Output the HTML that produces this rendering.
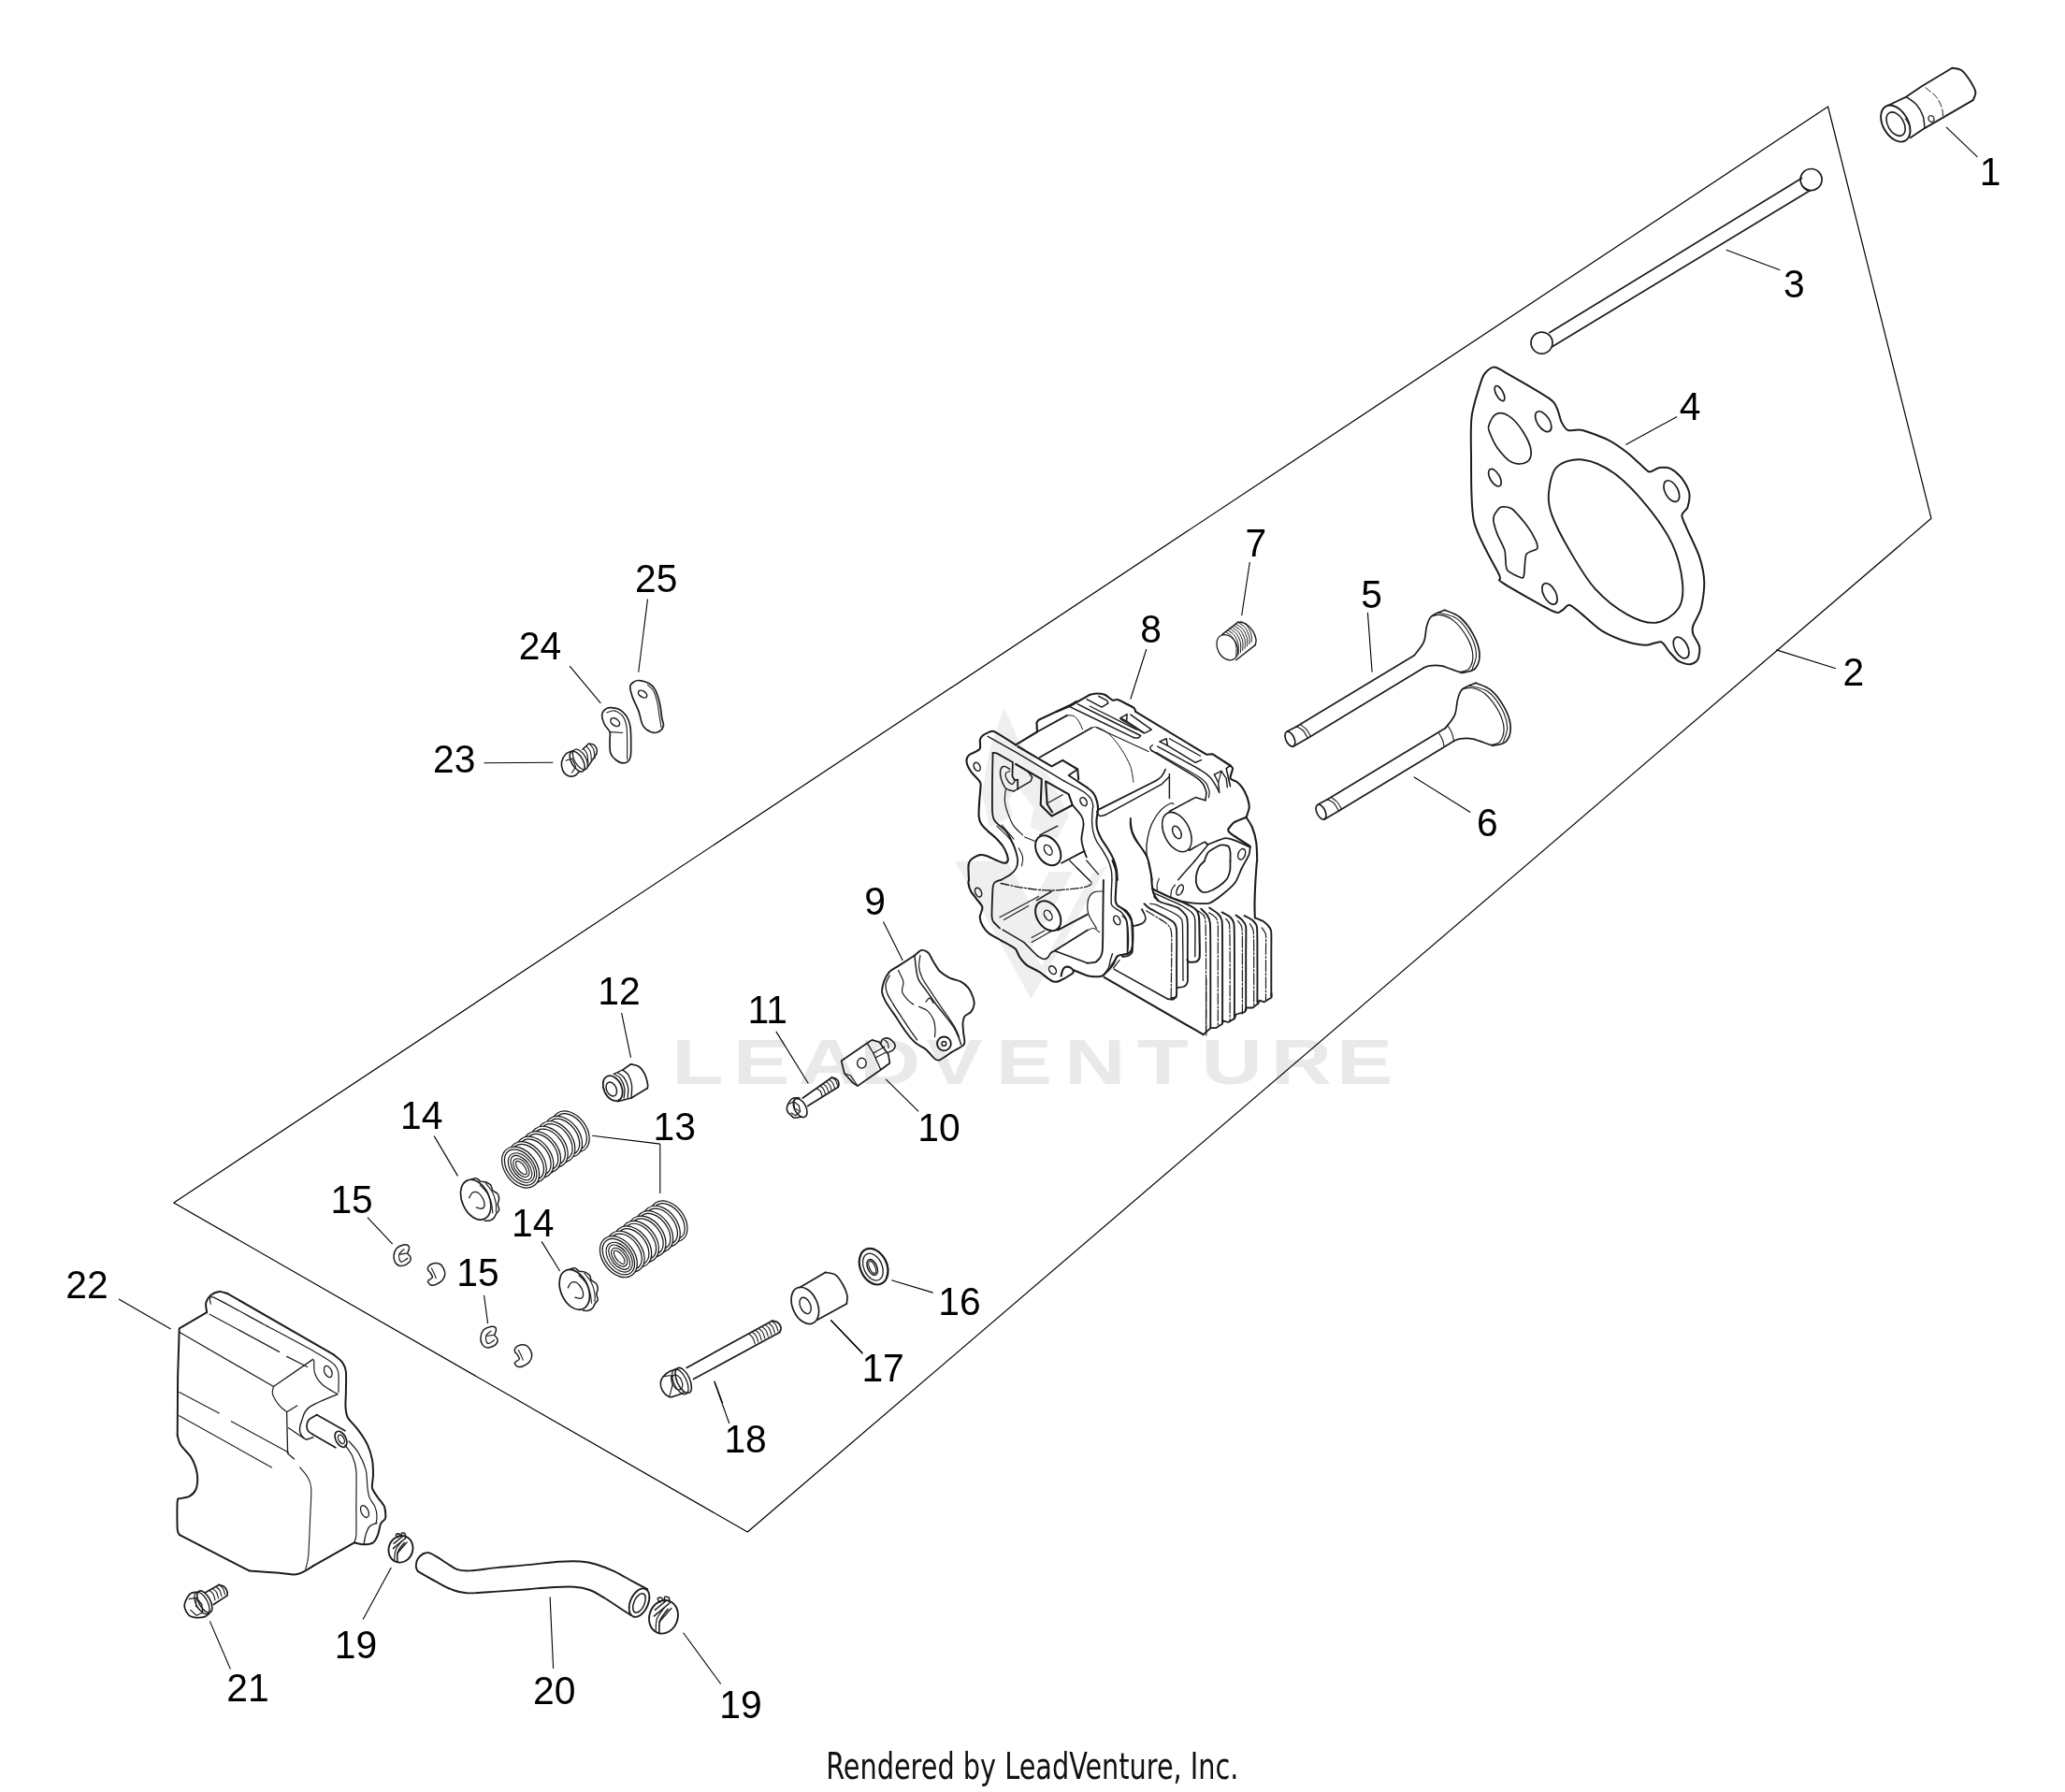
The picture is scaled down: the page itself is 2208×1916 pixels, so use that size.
<!DOCTYPE html>
<html><head><meta charset="utf-8"><title>Parts diagram</title>
<style>html,body{margin:0;padding:0;background:#fff}svg{display:block;will-change:transform;transform:translateZ(0)}</style></head>
<body>
<svg width="2208" height="1916" viewBox="0 0 2208 1916">
<rect width="2208" height="1916" fill="#fff"/>
<g fill="#efefef" stroke="none"><text transform="scale(1.327,1)" x="541.3 590.7 643.2 692.6 746.4 802.4 857.7 916.1 967.9 1023.9 1076.8" y="1158.6" font-family="'Liberation Sans', Arial, sans-serif" font-weight="bold" font-size="68" fill="#e9e9e9">LEADVENTURE</text><polygon points="1021,920.7 1076.7,920.7 1102.5,967.1 1122.1,932 1146.9,932 1102.5,1014.6 1113.9,1033.2 1167.6,934.1 1184.1,925.8 1102.5,1068.3"/><polygon points="1073.6,756.5 1058.1,801.9 1049.9,847.4 1058.1,884.5 1082.9,872.1 1078.8,855.6 1087,839.1 1105.6,863.9 1101.5,884.5 1130.4,896.9 1142.8,872.1 1122.1,830.8 1089.1,791.6"/></g>
<g fill="none" stroke="#1c1c1c" stroke-width="1.7" stroke-linejoin="round" stroke-linecap="round">
<path d="M1954.6 114 L2065 554.3 L799.3 1638 L185.8 1286 Z" stroke-width="1.2" stroke="#000"/>
<ellipse cx="2026.8" cy="132.1" rx="13.4" ry="21.1" transform="rotate(-30 2026.8 132.1)" stroke-width="1.9"/>
<ellipse cx="2027.1" cy="132.6" rx="8.5" ry="13.8" transform="rotate(-30 2027.1 132.6)" stroke-width="1.6"/>
<path d="M2019.5 112.5 L2038.2 103.6 L2055.2 92 L2087.3 72.8" stroke-width="1.8"/>
<path d="M2042.7 147.3 L2057.9 137.1 L2109.6 107.1" stroke-width="1.8"/>
<path d="M2087.3 72.8 C2089 73.1 2094 72.8 2097.1 75 C2100.3 77.2 2103.5 81.8 2106.1 85.7 C2108.6 89.6 2111.7 94.6 2112.3 98.2 C2112.9 101.8 2110.1 105.7 2109.6 107.1" stroke-width="1.9"/>
<path d="M2038.2 103.6 C2040 104.9 2046 108.2 2048.9 111.6 C2051.9 115 2054.6 119.9 2056.1 124.1 C2057.6 128.3 2057.6 134.9 2057.9 137.1" stroke-width="1.5"/>
<path d="M2058.8 93.8 C2060.7 95.4 2067.4 99.9 2070.4 103.6 C2073.3 107.3 2075.4 112.2 2076.6 116.1 C2077.8 119.9 2077.4 125 2077.5 126.8" stroke-width="1" stroke-dasharray="7 3"/>
<path d="M2037.3 126.8 C2038.1 128.1 2040.9 132.1 2041.8 134.8 C2042.7 137.5 2042.5 141.5 2042.7 142.9" stroke-width="1.1"/>
<ellipse cx="2065" cy="127" rx="2.9" ry="3.4" transform="rotate(-20 2065 127)" stroke-width="1.2"/>
<ellipse cx="1936.6" cy="192" rx="11.5" ry="11.5" transform="rotate(0 1936.6 192)"/>
<ellipse cx="1648.5" cy="366.6" rx="11.5" ry="11.5" transform="rotate(0 1648.5 366.6)"/>
<path d="M1926.5 190.5 L1657 355.5"/>
<path d="M1934 204.5 L1660 370.5"/>
<path d="M1927 199 C1927.7 199.7 1929.5 202.1 1931 203 C1932.5 203.9 1935.2 204.2 1936 204.5" stroke-width="1.2"/>
<path d="M1588.5 398.3 C1590.3 396.4 1594.9 392.5 1597.7 392.5 C1600.5 392.5 1601.9 393.9 1609.7 398.3 C1617.5 402.7 1648.7 420.7 1656 425.7 C1663.3 430.7 1662.7 432.6 1664.6 436 C1666.4 439.4 1668.1 448.2 1669.7 451.4 C1671.3 454.6 1673.6 458.9 1676.6 460 C1679.5 461.1 1686.3 458.6 1692 460 C1697.7 461.4 1713 467.1 1719.4 470.3 C1725.8 473.5 1735 480.1 1740 484 C1745 487.9 1753.9 496.7 1757.1 499.4 C1760.3 502.2 1761.7 504.5 1764 504.6 C1766.3 504.7 1771.3 500.6 1774.3 500.1 C1777.3 499.7 1783.1 499.6 1786.3 501.1 C1789.5 502.7 1795.6 508 1798.3 511.4 C1800.9 514.9 1805.3 522.7 1806.2 526.9 C1807 531 1805.5 539.1 1804.5 542.3 C1803.4 545.5 1798.4 547.9 1798.3 550.9 C1798.1 553.8 1800.9 558.6 1803.4 564.6 C1805.9 570.5 1814.6 587.7 1817.1 595.4 C1819.7 603.2 1822.1 615.5 1822.3 622.9 C1822.5 630.2 1820.5 644.1 1818.9 650.3 C1817.3 656.5 1811.4 665.5 1810.3 669.1 C1809.1 672.8 1809.4 674.7 1810.3 677.7 C1811.2 680.7 1816.5 687.8 1817.1 691.4 C1817.8 695.1 1816.8 702.6 1815.4 705.1 C1814.1 707.7 1809.6 710.1 1806.9 710.3 C1804.1 710.5 1797.8 708.7 1794.9 706.9 C1791.9 705 1787.1 699.3 1784.6 696.6 C1782.1 693.8 1779.2 687.2 1776 686.3 C1772.8 685.4 1765.4 689.7 1760.6 689.7 C1755.8 689.7 1746.4 688.3 1740 686.3 C1733.6 684.2 1719 678.2 1712.6 674.3 C1706.2 670.4 1696.6 660.8 1692 657.1 C1687.4 653.5 1681.3 647.4 1678.3 646.9 C1675.3 646.3 1672.2 652.2 1669.7 653 C1667.2 653.9 1667.9 657.1 1659.4 653 C1651 649 1613.8 628 1606.3 622.9 C1598.7 617.7 1606.9 623 1602.9 614.3 C1598.8 605.6 1580.1 574.9 1576.1 557.7 C1572.1 540.6 1573.3 500.8 1573 485.7 C1572.7 470.6 1572.3 455.1 1573.7 444.6 C1575.2 434.1 1582 413 1584 406.9 C1586 400.7 1586.6 400.2 1588.5 398.3 Z" stroke-width="2"/>
<path d="M1656 526.9 C1656.9 518.3 1658.6 505.3 1664.6 499.4 C1670.6 493.5 1681.7 490.4 1692 491.5 C1702.3 492.7 1714.9 498.1 1726.3 506.3 C1737.7 514.5 1750.3 528 1760.6 540.6 C1770.9 553.1 1781.6 568 1788 581.7 C1794.4 595.4 1797.8 611.4 1799 622.9 C1800.1 634.3 1799.5 643.1 1794.9 650.3 C1790.2 657.4 1780 664.6 1770.9 665.7 C1761.7 666.9 1750.9 663.1 1740 657.1 C1729.1 651.1 1716 641.1 1705.7 629.7 C1695.4 618.3 1686 601.7 1678.3 588.6 C1670.6 575.4 1663.1 561.1 1659.4 550.9 C1655.7 540.6 1655.1 535.4 1656 526.9 Z" stroke-width="1.9"/>
<ellipse cx="1603.5" cy="420.6" rx="3.8" ry="8.9" transform="rotate(-28 1603.5 420.6)"/>
<path d="M1591.9 454.9 C1593 451.7 1595.9 444.6 1599.4 442.9 C1603 441.1 1608.3 441.4 1613.1 444.6 C1618 447.7 1624.6 455.4 1628.6 461.7 C1632.6 468 1636.6 476.9 1637.1 482.3 C1637.7 487.7 1635.4 492.3 1632 494.3 C1628.6 496.3 1621.7 496.9 1616.6 494.3 C1611.4 491.7 1605.1 484.3 1601.1 478.9 C1597.1 473.4 1594.1 465.7 1592.6 461.7 C1591 457.7 1590.7 458 1591.9 454.9 Z"/>
<ellipse cx="1650.2" cy="450.7" rx="6.5" ry="12.3" transform="rotate(-33 1650.2 450.7)"/>
<ellipse cx="1598.4" cy="510.7" rx="5.1" ry="10.3" transform="rotate(-30 1598.4 510.7)"/>
<ellipse cx="1787.3" cy="525.1" rx="6.9" ry="12.3" transform="rotate(-28 1787.3 525.1)"/>
<ellipse cx="1797.6" cy="692.5" rx="6.9" ry="12.3" transform="rotate(-28 1797.6 692.5)"/>
<ellipse cx="1657" cy="634.9" rx="6.5" ry="12.3" transform="rotate(-28 1657 634.9)"/>
<path d="M1597.7 550.9 C1598.6 549.1 1602.4 543.1 1604.6 542.3 C1606.8 541.5 1613.4 541.8 1616.6 544 C1619.8 546.2 1629 557.1 1632 561.1 C1635 565.1 1641 575.3 1642.3 578.3 C1643.6 581.3 1644.5 585.2 1643.3 586.9 C1642.1 588.5 1633.6 589.5 1632 592.7 C1630.4 595.9 1630.2 611.4 1629.6 614.3 C1629 617.2 1629 618.3 1626.9 617.7 C1624.7 617.1 1613.5 612.5 1611.4 609.1 C1609.3 605.7 1610.2 593 1609 588.6 C1607.8 584.2 1602.5 575 1601.1 571.4 C1599.7 567.8 1597.4 560.1 1597 557.7 C1596.6 555.3 1596.8 552.7 1597.7 550.9 Z"/>
<path d="M1386.1 776.9 L1512.2 700.7"/>
<path d="M1398.3 789.2 L1522.4 713.9"/>
<path d="M1376.3 782 L1386.1 776.9"/>
<path d="M1382.6 798.3 L1398.3 789.2"/>
<ellipse cx="1379.4" cy="790.2" rx="4.5" ry="8.5" transform="rotate(-25 1379.4 790.2)"/>
<path d="M1386.1 776.9 C1387.3 777.6 1391.2 779 1393.2 781 C1395.3 783.1 1397.5 787.8 1398.3 789.2" stroke-width="1.1"/>
<path d="M1390.2 774.5 C1391.3 775.4 1394.8 777.5 1396.7 779.6 C1398.5 781.7 1400.6 785.9 1401.4 787.1" stroke-width="1.1"/>
<path d="M1512.2 700.7 C1513.9 698.3 1520.2 691.5 1522.4 686.4 C1524.6 681.4 1524.1 674.7 1525.4 670.2 C1526.8 665.6 1527.3 662 1530.5 659 C1533.7 656 1542.4 653.4 1544.7 652.3"/>
<path d="M1544.7 652.3 C1547.5 653.6 1555.9 655.7 1561 660 C1566.1 664.3 1571.8 671.9 1575.3 678.3 C1578.7 684.7 1581.6 692.5 1582 698.6 C1582.3 704.7 1580.4 711.5 1577.3 714.9 C1574.1 718.4 1565.4 718.6 1563.1 719.4"/>
<path d="M1563.1 719.4 C1561.4 718.8 1556.6 717.2 1552.9 715.9 C1549.2 714.7 1544.7 712.5 1540.7 711.9 C1536.6 711.2 1531.5 711.5 1528.5 711.9 C1525.4 712.2 1523.4 713.6 1522.4 713.9"/>
<path d="M1530.5 659 C1532.2 658.7 1536.6 656.7 1540.7 657.6 C1544.7 658.4 1550.2 659.9 1554.9 664.1 C1559.7 668.2 1565.8 676.3 1569.2 682.4 C1572.5 688.5 1574.6 695.3 1574.8 700.7 C1575.1 706.1 1573.1 711.9 1570.8 714.9 C1568.5 717.9 1562.6 718 1561 718.6" stroke-width="1.2"/>
<path d="M1537.6 655.1 C1541 656.2 1552.1 657.4 1558 661.6 C1563.8 665.8 1569.4 674 1572.8 680.3 C1576.2 686.7 1578.3 693.8 1578.5 699.7 C1578.7 705.5 1574.9 712.7 1574.2 715.3" stroke-width="1.1"/>
<path d="M1419.3 854.8 L1545.4 778.6"/>
<path d="M1431.5 867.1 L1555.5 791.8"/>
<path d="M1409.5 859.9 L1419.3 854.8"/>
<path d="M1415.8 876.2 L1431.5 867.1"/>
<ellipse cx="1412.5" cy="868.1" rx="4.5" ry="8.5" transform="rotate(-25 1412.5 868.1)"/>
<path d="M1419.3 854.8 C1420.4 855.5 1424.3 856.9 1426.4 858.9 C1428.4 860.9 1430.6 865.7 1431.5 867.1" stroke-width="1.1"/>
<path d="M1423.3 852.4 C1424.4 853.3 1428 855.4 1429.8 857.5 C1431.7 859.6 1433.7 863.8 1434.5 865" stroke-width="1.1"/>
<path d="M1545.4 778.6 C1547.1 776.2 1553.3 769.4 1555.5 764.3 C1557.7 759.3 1557.2 752.6 1558.6 748.1 C1559.9 743.5 1560.4 739.9 1563.7 736.9 C1566.9 733.9 1575.5 731.3 1577.9 730.2"/>
<path d="M1577.9 730.2 C1580.6 731.5 1589.1 733.6 1594.2 737.9 C1599.3 742.2 1604.9 749.8 1608.4 756.2 C1611.9 762.6 1614.8 770.4 1615.1 776.5 C1615.5 782.6 1613.6 789.4 1610.4 792.8 C1607.3 796.3 1598.6 796.5 1596.2 797.3"/>
<path d="M1596.2 797.3 C1594.5 796.7 1589.8 795.1 1586 793.8 C1582.3 792.6 1577.9 790.4 1573.8 789.8 C1569.8 789.1 1564.7 789.4 1561.6 789.8 C1558.6 790.1 1556.5 791.5 1555.5 791.8"/>
<path d="M1563.7 736.9 C1565.4 736.6 1569.8 734.6 1573.8 735.5 C1577.9 736.3 1583.3 737.8 1588.1 742 C1592.8 746.1 1599 754.2 1602.3 760.3 C1605.6 766.4 1607.7 773.2 1608 778.6 C1608.3 784 1606.2 789.8 1603.9 792.8 C1601.6 795.8 1595.8 795.9 1594.2 796.5" stroke-width="1.2"/>
<path d="M1570.8 733 C1574.2 734.1 1585.3 735.3 1591.1 739.5 C1597 743.7 1602.5 751.9 1606 758.2 C1609.4 764.6 1611.4 771.7 1611.7 777.6 C1611.9 783.4 1608.1 790.6 1607.4 793.2" stroke-width="1.1"/>
<path d="M1538.2 783.1 C1538.9 784.3 1541.3 788.2 1542.3 790.8 C1543.3 793.4 1544 797.2 1544.3 798.5" stroke-width="1.1"/>
<path d="M1548.4 776.5 C1549.1 777.7 1551.5 781 1552.5 783.7 C1553.5 786.3 1554.2 790.9 1554.5 792.4" stroke-width="1.1"/>
<path d="M221.2 1403.2 C221.1 1401.5 219.6 1396.2 220.2 1393.1 C220.9 1390.1 222.9 1387.1 225.2 1385.1 C227.6 1383.1 231.3 1381.4 234.3 1381.1 C237.3 1380.8 241.8 1382.8 243.3 1383.1" stroke-width="2"/>
<path d="M243.3 1383.1 L356.8 1448.4" stroke-width="2"/>
<path d="M356.8 1448.4 C358 1449.5 364.1 1454 365.9 1456.4 C367.6 1458.8 369.4 1462.2 369.9 1466.5 C370.4 1470.8 369.9 1483.5 369.9 1488.6 C369.8 1493.7 369.2 1501 369.5 1504.6 C369.8 1508.3 370.1 1512.5 371.9 1515.7 C373.7 1518.9 380.1 1524.9 382.9 1528.8 C385.8 1532.6 391 1540.5 393 1544.8 C395 1549.1 397.2 1556.6 398 1560.9 C398.8 1565.2 399 1572.9 399 1577 C399 1581 397.3 1587.8 398 1591 C398.7 1594.2 402.3 1598.4 404 1601.1 C405.8 1603.7 410 1608.2 411.1 1611.1 C412.1 1614.1 412.6 1620.8 412.1 1623.2 C411.5 1625.6 408.1 1626.8 407.1 1629.2 C406 1631.6 405.1 1638.6 404 1641.2 C403 1643.9 401 1647.9 399 1649.3 C397 1650.6 391.7 1651.3 389 1651.3 C386.3 1651.3 380.3 1649.6 378.9 1649.3" stroke-width="2"/>
<path d="M378.9 1649.3 L334.7 1674.4" stroke-width="2"/>
<path d="M334.7 1674.4 C332.7 1675.6 326 1679.9 322.7 1681.4 C319.3 1682.9 318.7 1683.4 314.6 1683.4 C310.6 1683.5 306.6 1682.5 298.6 1681.8 C290.5 1681.2 271.8 1679.8 266.4 1679.4" stroke-width="2"/>
<path d="M266.4 1679.4 L192.1 1641.2" stroke-width="2"/>
<path d="M192.1 1641.2 C191.8 1640.4 190 1640 189.7 1635.2 C189.4 1630.4 189.2 1609.5 189.7 1605.1 C190.1 1600.7 191.4 1602.7 193.1 1602.1 C194.8 1601.4 200 1601.3 202.1 1600.1 C204.3 1598.9 208 1595.6 209.2 1593 C210.4 1590.5 211.2 1584.2 211.2 1581 C211.2 1577.8 210.1 1572 209.2 1568.9 C208.2 1565.8 206.3 1561.1 204.2 1557.9 C202 1554.7 195 1547.9 193.1 1544.8 C191.2 1541.7 190.1 1536.1 189.7 1534.8" stroke-width="2"/>
<path d="M189.7 1534.8 L190.1 1472.5 L191.7 1420.3 L221.2 1403.2" stroke-width="2"/>
<path d="M225.2 1394.2 C225.6 1393.3 221.6 1384.5 228.3 1387.1 C234.9 1389.7 269.8 1409.5 282.5 1416.2 C295.2 1423 328.1 1440.5 336.7 1445.4 C345.4 1450.3 353.9 1455.7 356.8 1458.4 C359.8 1461.1 361.3 1465 361.9 1468.5 C362.4 1472 361.9 1486.2 361.9 1488.6" stroke-width="1.2"/>
<path d="M372.9 1540.8 C374.6 1542.8 379.9 1547.8 382.9 1552.9 C386 1557.9 389.3 1564.6 391 1570.9 C392.7 1577.3 392.3 1586 393 1591 C393.7 1596 393.7 1597.7 395 1601.1 C396.3 1604.4 399.7 1607.8 401 1611.1 C402.4 1614.5 402.9 1618.1 403 1621.2 C403.2 1624.2 402.2 1627.9 402 1629.2" stroke-width="1.2"/>
<path d="M368.9 1544.8 C369.7 1546 375.7 1554.1 376.9 1556.9 C378.1 1559.7 380.5 1567.5 380.9 1572.9 C381.3 1578.4 380.9 1604.3 380.9 1611.1 C380.9 1617.9 381.1 1637.4 380.9 1641.2 C380.7 1645.1 379.1 1648.5 378.9 1649.3" stroke-width="1.2"/>
<path d="M224.2 1405.2 L298.6 1445.4" stroke-width="1.2"/>
<path d="M306.6 1450.4 L328.7 1461.5" stroke-width="1.2"/>
<path d="M191.7 1424.3 L292.5 1482.5 L334.7 1453.4" stroke-width="1.3"/>
<path d="M292.5 1482.5 C292.4 1483.9 290.5 1487.2 291.5 1490.6 C292.5 1493.9 296.1 1499.5 298.6 1502.6 C301.1 1505.8 305.3 1508.5 306.6 1509.7" stroke-width="1.2"/>
<path d="M317.7 1503 L306.6 1509.7 L307.6 1553.9 L314.6 1559.9" stroke-width="1.3"/>
<path d="M191.7 1488.6 L234.3 1511.1" stroke-width="1.1"/>
<path d="M247.3 1519.7 L308.6 1552.9" stroke-width="1.1"/>
<path d="M191.7 1513.7 L290.5 1568.9" stroke-width="1.1"/>
<path d="M320.7 1568.9 C322 1570.6 326.7 1575.3 328.7 1579 C330.7 1582.7 332.2 1584 332.7 1591 C333.2 1598.1 332.2 1609.1 331.7 1621.2 C331.2 1633.2 330.5 1654 329.7 1663.3 C328.9 1672.7 327.2 1675.1 326.7 1677.4" stroke-width="1.1"/>
<path d="M335.7 1454.4 C335.9 1456.8 335.2 1464.1 336.7 1468.5 C338.2 1472.8 340.8 1476.9 344.8 1480.5 C348.8 1484.2 358.2 1488.9 360.8 1490.6" stroke-width="1.2"/>
<path d="M360.8 1490.6 C355.8 1492.9 337.1 1500 330.7 1504.6 C324.4 1509.3 324.4 1514.4 322.7 1518.7 C321 1523.1 320 1527.4 320.7 1530.8 C321.3 1534.1 324.4 1537.8 326.7 1538.8 C329 1539.8 333.4 1537.1 334.7 1536.8" stroke-width="1.4"/>
<path d="M308.6 1526.7 L324.7 1537.8" stroke-width="1.2"/>
<ellipse cx="350.8" cy="1466.5" rx="3.8" ry="6.4" transform="rotate(-25 350.8 1466.5)" stroke-width="1.3"/>
<path d="M338.8 1512.7 L368.9 1529.8"/>
<path d="M333.7 1533.2 L358.8 1547.8"/>
<path d="M333.7 1533.2 C332.9 1532.4 329.4 1531.2 328.7 1528.8 C328 1526.3 328 1521.4 329.7 1518.7 C331.4 1516 337.2 1513.7 338.8 1512.7"/>
<ellipse cx="364.5" cy="1538.8" rx="5.4" ry="9.2" transform="rotate(-28 364.5 1538.8)"/>
<ellipse cx="364.9" cy="1538.8" rx="2.8" ry="5" transform="rotate(-28 364.9 1538.8)" stroke-width="1.2"/>
<ellipse cx="390" cy="1616.1" rx="3.8" ry="6.8" transform="rotate(-25 390 1616.1)" stroke-width="1.3"/>
<path d="M389 1651.3 C389.3 1649.6 390 1644.4 391 1641.2 C392 1638.1 393 1634.4 395 1632.2 C397 1630 401.7 1628.9 403 1628.2" stroke-width="1.3"/>
<ellipse cx="610.2" cy="1209.9" rx="15.5" ry="23" transform="rotate(-37 610.2 1209.9)" fill="#fff" stroke="#111" stroke-width="4.0"/>
<ellipse cx="610.2" cy="1209.9" rx="15.5" ry="23" transform="rotate(-37 610.2 1209.9)" stroke="#fff" stroke-width="1.6"/>
<ellipse cx="602.5" cy="1215.4" rx="15.5" ry="23" transform="rotate(-37 602.5 1215.4)" fill="#fff" stroke="#111" stroke-width="4.0"/>
<ellipse cx="602.5" cy="1215.4" rx="15.5" ry="23" transform="rotate(-37 602.5 1215.4)" stroke="#fff" stroke-width="1.6"/>
<ellipse cx="594.9" cy="1220.8" rx="15.5" ry="23" transform="rotate(-37 594.9 1220.8)" fill="#fff" stroke="#111" stroke-width="4.0"/>
<ellipse cx="594.9" cy="1220.8" rx="15.5" ry="23" transform="rotate(-37 594.9 1220.8)" stroke="#fff" stroke-width="1.6"/>
<ellipse cx="587.2" cy="1226.3" rx="15.5" ry="23" transform="rotate(-37 587.2 1226.3)" fill="#fff" stroke="#111" stroke-width="4.0"/>
<ellipse cx="587.2" cy="1226.3" rx="15.5" ry="23" transform="rotate(-37 587.2 1226.3)" stroke="#fff" stroke-width="1.6"/>
<ellipse cx="579.6" cy="1231.7" rx="15.5" ry="23" transform="rotate(-37 579.6 1231.7)" fill="#fff" stroke="#111" stroke-width="4.0"/>
<ellipse cx="579.6" cy="1231.7" rx="15.5" ry="23" transform="rotate(-37 579.6 1231.7)" stroke="#fff" stroke-width="1.6"/>
<ellipse cx="571.9" cy="1237.2" rx="15.5" ry="23" transform="rotate(-37 571.9 1237.2)" fill="#fff" stroke="#111" stroke-width="4.0"/>
<ellipse cx="571.9" cy="1237.2" rx="15.5" ry="23" transform="rotate(-37 571.9 1237.2)" stroke="#fff" stroke-width="1.6"/>
<ellipse cx="564.3" cy="1242.6" rx="15.5" ry="23" transform="rotate(-37 564.3 1242.6)" fill="#fff" stroke="#111" stroke-width="4.0"/>
<ellipse cx="564.3" cy="1242.6" rx="15.5" ry="23" transform="rotate(-37 564.3 1242.6)" stroke="#fff" stroke-width="1.6"/>
<ellipse cx="556.6" cy="1248.1" rx="15.5" ry="23" transform="rotate(-37 556.6 1248.1)" fill="#fff" stroke="#111" stroke-width="4.0"/>
<ellipse cx="556.6" cy="1248.1" rx="15.5" ry="23" transform="rotate(-37 556.6 1248.1)" stroke="#fff" stroke-width="1.6"/>
<ellipse cx="557.4" cy="1248.6" rx="10" ry="16.5" transform="rotate(-37 557.4 1248.6)" fill="#fff" stroke="#111" stroke-width="3.8"/>
<ellipse cx="557.4" cy="1248.6" rx="10" ry="16.5" transform="rotate(-37 557.4 1248.6)" stroke="#fff" stroke-width="1.6"/>
<ellipse cx="557.4" cy="1248.6" rx="5" ry="10" transform="rotate(-37 557.4 1248.6)" fill="#fff" stroke="#111" stroke-width="3.8"/>
<ellipse cx="557.4" cy="1248.6" rx="5" ry="10" transform="rotate(-37 557.4 1248.6)" stroke="#fff" stroke-width="1.6"/>
<ellipse cx="715" cy="1305.9" rx="15.5" ry="23" transform="rotate(-37 715 1305.9)" fill="#fff" stroke="#111" stroke-width="4.0"/>
<ellipse cx="715" cy="1305.9" rx="15.5" ry="23" transform="rotate(-37 715 1305.9)" stroke="#fff" stroke-width="1.6"/>
<ellipse cx="707.3" cy="1311.3" rx="15.5" ry="23" transform="rotate(-37 707.3 1311.3)" fill="#fff" stroke="#111" stroke-width="4.0"/>
<ellipse cx="707.3" cy="1311.3" rx="15.5" ry="23" transform="rotate(-37 707.3 1311.3)" stroke="#fff" stroke-width="1.6"/>
<ellipse cx="699.7" cy="1316.7" rx="15.5" ry="23" transform="rotate(-37 699.7 1316.7)" fill="#fff" stroke="#111" stroke-width="4.0"/>
<ellipse cx="699.7" cy="1316.7" rx="15.5" ry="23" transform="rotate(-37 699.7 1316.7)" stroke="#fff" stroke-width="1.6"/>
<ellipse cx="692" cy="1322.1" rx="15.5" ry="23" transform="rotate(-37 692 1322.1)" fill="#fff" stroke="#111" stroke-width="4.0"/>
<ellipse cx="692" cy="1322.1" rx="15.5" ry="23" transform="rotate(-37 692 1322.1)" stroke="#fff" stroke-width="1.6"/>
<ellipse cx="684.4" cy="1327.5" rx="15.5" ry="23" transform="rotate(-37 684.4 1327.5)" fill="#fff" stroke="#111" stroke-width="4.0"/>
<ellipse cx="684.4" cy="1327.5" rx="15.5" ry="23" transform="rotate(-37 684.4 1327.5)" stroke="#fff" stroke-width="1.6"/>
<ellipse cx="676.7" cy="1332.9" rx="15.5" ry="23" transform="rotate(-37 676.7 1332.9)" fill="#fff" stroke="#111" stroke-width="4.0"/>
<ellipse cx="676.7" cy="1332.9" rx="15.5" ry="23" transform="rotate(-37 676.7 1332.9)" stroke="#fff" stroke-width="1.6"/>
<ellipse cx="669.1" cy="1338.3" rx="15.5" ry="23" transform="rotate(-37 669.1 1338.3)" fill="#fff" stroke="#111" stroke-width="4.0"/>
<ellipse cx="669.1" cy="1338.3" rx="15.5" ry="23" transform="rotate(-37 669.1 1338.3)" stroke="#fff" stroke-width="1.6"/>
<ellipse cx="661.4" cy="1343.7" rx="15.5" ry="23" transform="rotate(-37 661.4 1343.7)" fill="#fff" stroke="#111" stroke-width="4.0"/>
<ellipse cx="661.4" cy="1343.7" rx="15.5" ry="23" transform="rotate(-37 661.4 1343.7)" stroke="#fff" stroke-width="1.6"/>
<ellipse cx="662.2" cy="1344.2" rx="10" ry="16.5" transform="rotate(-37 662.2 1344.2)" fill="#fff" stroke="#111" stroke-width="3.8"/>
<ellipse cx="662.2" cy="1344.2" rx="10" ry="16.5" transform="rotate(-37 662.2 1344.2)" stroke="#fff" stroke-width="1.6"/>
<ellipse cx="662.2" cy="1344.2" rx="5" ry="10" transform="rotate(-37 662.2 1344.2)" fill="#fff" stroke="#111" stroke-width="3.8"/>
<ellipse cx="662.2" cy="1344.2" rx="5" ry="10" transform="rotate(-37 662.2 1344.2)" stroke="#fff" stroke-width="1.6"/>
<path d="M503.7 1261 C504.6 1260.8 507.5 1259.3 509.2 1259.7 C510.8 1260 512.2 1262.4 513.9 1263.1 C515.6 1263.7 517.5 1263.1 519.3 1263.7 C521.1 1264.4 523.5 1265.7 524.7 1267.1 C526 1268.6 525.5 1271 526.8 1272.6 C528 1274.1 531.1 1275 532.2 1276.6 C533.3 1278.2 533.6 1280.2 533.6 1282 C533.6 1283.9 532.2 1285.5 532.2 1287.5 C532.2 1289.4 533.9 1291.8 533.6 1293.6 C533.2 1295.4 531.1 1296.8 530.2 1298.3 C529.3 1299.8 529.3 1301.3 528.1 1302.4 C527 1303.5 525.1 1304.6 523.4 1305.1 C521.7 1305.5 518.9 1305.1 518 1305.1" stroke-width="1.5"/>
<ellipse cx="508.7" cy="1282.7" rx="14.6" ry="22.5" transform="rotate(-24 508.7 1282.7)" fill="#fff"/>
<path d="M501.7 1280.7 C502.3 1279.8 503.5 1276.2 505.1 1275.3 C506.7 1274.4 509.3 1274.1 511.2 1275.3 C513.1 1276.4 515.5 1279.8 516.6 1282 C517.7 1284.3 518.2 1287.1 518 1288.8 C517.7 1290.5 516.7 1291.9 515.3 1292.2 C513.8 1292.6 510.2 1291.1 509.2 1290.9" stroke-width="1.3"/>
<path d="M513.2 1267.1 C514.5 1268.5 518.6 1272.1 520.7 1275.3 C522.7 1278.4 524.4 1282.5 525.4 1286.1 C526.4 1289.7 526.6 1295.2 526.8 1297" stroke-width="1.1"/>
<path d="M519.3 1265.1 C520.6 1266.8 525 1271.8 526.8 1275.3 C528.6 1278.8 529.6 1282.7 530.2 1286.1 C530.8 1289.5 530.4 1294 530.4 1295.6" stroke-width="1.1"/>
<path d="M609.3 1357.2 C610.2 1357 613.1 1355.5 614.8 1355.9 C616.4 1356.2 617.8 1358.6 619.5 1359.3 C621.2 1359.9 623.1 1359.3 624.9 1359.9 C626.7 1360.6 629.1 1361.9 630.3 1363.3 C631.6 1364.8 631.1 1367.2 632.4 1368.8 C633.6 1370.3 636.7 1371.2 637.8 1372.8 C638.9 1374.4 639.2 1376.4 639.2 1378.2 C639.2 1380.1 637.8 1381.7 637.8 1383.7 C637.8 1385.6 639.5 1388 639.2 1389.8 C638.8 1391.6 636.7 1393 635.8 1394.5 C634.9 1396 634.9 1397.5 633.7 1398.6 C632.6 1399.7 630.7 1400.8 629 1401.3 C627.3 1401.7 624.5 1401.3 623.6 1401.3" stroke-width="1.5"/>
<ellipse cx="614.3" cy="1378.9" rx="14.6" ry="22.5" transform="rotate(-24 614.3 1378.9)" fill="#fff"/>
<path d="M607.3 1376.9 C607.9 1376 609.1 1372.4 610.7 1371.5 C612.3 1370.6 614.9 1370.3 616.8 1371.5 C618.7 1372.6 621.1 1376 622.2 1378.2 C623.3 1380.5 623.8 1383.3 623.6 1385 C623.3 1386.7 622.3 1388.1 620.9 1388.4 C619.4 1388.8 615.8 1387.3 614.8 1387.1" stroke-width="1.3"/>
<path d="M618.8 1363.3 C620.1 1364.7 624.2 1368.3 626.3 1371.5 C628.3 1374.6 630 1378.7 631 1382.3 C632 1385.9 632.2 1391.4 632.4 1393.2" stroke-width="1.1"/>
<path d="M624.9 1361.3 C626.2 1363 630.6 1368 632.4 1371.5 C634.2 1375 635.2 1378.9 635.8 1382.3 C636.4 1385.7 636 1390.2 636 1391.8" stroke-width="1.1"/>
<path d="M665.8 1143.9 L674.6 1137.8"/>
<path d="M674.6 1137.8 C676 1138.2 680.9 1138.7 683.4 1140.5 C685.9 1142.3 688 1145.5 689.5 1148.6 C691 1151.8 692.2 1157 692.6 1159.5 C693.1 1162 692.3 1162.9 692.2 1163.6"/>
<path d="M675 1174 L692.2 1163.6"/>
<path d="M665.8 1143.9 C666.8 1144.8 670.2 1146.6 671.9 1149.3 C673.5 1152 675 1156.1 675.5 1160.2 C676 1164.3 675.1 1171.7 675 1174" stroke-width="1.4"/>
<path d="M660.3 1146.9 C661.5 1147.7 665.3 1149.5 667.1 1152 C669 1154.6 670.8 1158.6 671.5 1162.2 C672.1 1165.8 671.2 1171.8 671.2 1173.7" stroke-width="1.3"/>
<path d="M656.3 1148.2 C657.4 1149 661.1 1150.2 663.1 1152.7 C665 1155.3 667.1 1160 667.8 1163.6 C668.5 1167.1 667.2 1172.3 667.1 1174" stroke-width="1.3"/>
<ellipse cx="655.2" cy="1163.6" rx="9.5" ry="14.2" transform="rotate(-25 655.2 1163.6)" stroke-width="1.8"/>
<ellipse cx="653.8" cy="1164.5" rx="5.2" ry="7.9" transform="rotate(-25 653.8 1164.5)" stroke-width="1.5"/>
<path d="M656.3 1148.2 L665.8 1143.9" stroke-width="1.2"/>
<path d="M660.3 1177.8 L675 1174" stroke-width="1.4"/>
<path d="M858.3 1174 L889.5 1152"/>
<path d="M863.7 1182.5 L896.3 1162.2"/>
<path d="M889.5 1152 C890.4 1152.4 893.7 1152.9 894.9 1154.1 C896.2 1155.2 896.7 1157.5 896.9 1158.8 C897.2 1160.2 896.4 1161.6 896.3 1162.2"/>
<path d="M876.6 1160.8 C877.2 1161.4 879.4 1162.7 880.4 1164.2 C881.4 1165.8 882.3 1169.1 882.7 1170.1" stroke-width="1.1"/>
<path d="M879.9 1158.6 C880.5 1159.2 882.6 1160.5 883.7 1162 C884.7 1163.5 885.6 1166.9 886 1167.8" stroke-width="1.1"/>
<path d="M883.1 1156.4 C883.8 1156.9 885.9 1158.2 886.9 1159.8 C887.9 1161.3 888.8 1164.6 889.2 1165.6" stroke-width="1.1"/>
<path d="M886.4 1154.1 C887 1154.7 889.2 1156 890.2 1157.5 C891.2 1159.1 892.1 1162.4 892.5 1163.4" stroke-width="1.1"/>
<path d="M889.6 1151.9 C890.3 1152.5 892.4 1153.8 893.4 1155.3 C894.4 1156.8 895.3 1160.1 895.7 1161.1" stroke-width="1.1"/>
<path d="M873.2 1163.6 C873.9 1164.1 876.3 1165.4 877.3 1166.9 C878.3 1168.5 879 1171.7 879.3 1172.6" stroke-width="1.2"/>
<ellipse cx="855.6" cy="1184.6" rx="6.1" ry="10.8" transform="rotate(-28 855.6 1184.6)" stroke-width="1.6"/>
<path d="M854.9 1174 C853.7 1174.1 849.6 1173.1 847.5 1174.4 C845.3 1175.7 843 1179.6 842 1181.9 C841.1 1184.1 841.1 1186.2 841.8 1188 C842.4 1189.8 844.8 1191.5 846.1 1192.7 C847.4 1193.9 847.7 1194.9 849.5 1195.2 C851.3 1195.4 855.7 1194.2 856.9 1194.1" stroke-width="1.6"/>
<path d="M843.4 1180.5 L848.8 1177.8 L854.2 1181.9 L855.6 1188.6 L850.8 1192.7 L846.1 1190" stroke-width="1.2"/>
<path d="M848.8 1177.8 L849.5 1184.6 L855.6 1188.6" stroke-width="1.1"/>
<path d="M899.6 1134.3 L927.7 1115 L932.4 1111.9 L940.2 1114.2 L949.8 1127.3 L951.4 1136.7 L941.8 1143.7 L917 1161.1 L912.3 1158.1 L902.9 1147.7 Z"/>
<path d="M927.3 1115.3 L933.8 1126 L941.8 1143.7" stroke-width="1.3"/>
<path d="M933.8 1126 L945.8 1119.3" stroke-width="1.2"/>
<path d="M936.4 1130.7 L947.1 1125.3" stroke-width="1.2"/>
<path d="M902.9 1147.7 L909.6 1150.1 L917 1161.1" stroke-width="1.1"/>
<ellipse cx="921.4" cy="1136.7" rx="4.8" ry="5.4" transform="rotate(0 921.4 1136.7)" stroke-width="1.4"/>
<path d="M941.8 1115.3 C942.1 1114.6 942.7 1112.1 943.8 1111.2 C944.9 1110.4 946.8 1109.7 948.5 1109.9 C950.2 1110.1 952.4 1111.2 953.8 1112.6 C955.3 1113.9 956.9 1116.3 957.2 1117.9 C957.5 1119.6 956.7 1121 955.4 1122.2 C954.2 1123.5 950.8 1124.8 949.8 1125.3" stroke-width="1.6"/>
<path d="M945.8 1111.9 C946.4 1112.5 948.4 1113.8 949.2 1115.3 C949.9 1116.7 949.9 1119.7 950.1 1120.6" stroke-width="1.2"/>
<path d="M977.9 1021.5 C981.2 1019.2 983.3 1016.2 985.3 1015.9 C987.3 1015.5 991 1017.2 992.7 1018.8 C994.4 1020.5 996.4 1025.6 998 1028.2 C999.6 1030.8 1002.4 1035.9 1004.7 1038.3 C1007.1 1040.6 1012.4 1044.1 1015.4 1045.6 C1018.5 1047.1 1024.8 1048.2 1027.5 1049.6 C1030.2 1051.1 1033.8 1054.2 1035.5 1056.3 C1037.2 1058.5 1039.4 1063.4 1040.2 1065.7 C1041 1068 1041.8 1071.6 1041.6 1073.8 C1041.3 1075.9 1039.6 1080.1 1038.2 1081.8 C1036.9 1083.5 1032.7 1084.9 1031.5 1086.5 C1030.4 1088.1 1029.7 1091.4 1029.5 1093.8 C1029.3 1096.2 1030 1101.5 1030.2 1104.6 C1030.4 1107.6 1032.5 1113.9 1030.8 1116.6 C1029.2 1119.3 1021.6 1122.4 1018.1 1124.6 C1014.6 1126.9 1007.2 1132.4 1004.7 1133.3 C1002.2 1134.3 1001.3 1133.5 999.4 1132 C997.4 1130.5 992.7 1124.2 990 1122 C987.3 1119.7 982.1 1117.8 979.3 1115.3 C976.4 1112.8 971.4 1107 968.6 1103.2 C965.7 1099.5 960.7 1091.4 957.9 1087.1 C955 1082.9 949.1 1074.6 947.1 1071.1 C945.2 1067.5 943.4 1063.2 943.1 1060.4 C942.9 1057.5 944.1 1052.5 945.1 1049.6 C946.2 1046.8 949.1 1041.2 951.2 1038.9 C953.2 1036.7 957 1035.2 960.5 1032.9 C964.1 1030.6 974.6 1023.8 977.9 1021.5 Z" stroke-width="1.9"/>
<path d="M977.9 1021.5 C978.2 1023.5 978.6 1029.3 979.3 1033.6 C980 1037.8 980 1042.5 982 1047 C984 1051.4 988.2 1055.9 991.3 1060.4 C994.5 1064.8 997.4 1069.3 1000.7 1073.8 C1004.1 1078.2 1008.3 1083.1 1011.4 1087.1 C1014.6 1091.2 1017.2 1094.3 1019.5 1097.9 C1021.7 1101.4 1023.5 1105.4 1024.8 1108.6 C1026.2 1111.7 1027.1 1115.3 1027.5 1116.6" stroke-width="1.5"/>
<path d="M984 1021.5 C983.8 1023.5 982.3 1029.6 982.6 1033.6 C983 1037.6 983.9 1041.2 986 1045.6 C988.1 1050.1 992 1055.2 995.4 1060.4 C998.7 1065.5 1002.7 1071.5 1006.1 1076.4 C1009.4 1081.3 1012.8 1085.8 1015.4 1089.8 C1018.1 1093.8 1020.5 1097.4 1022.1 1100.5 C1023.8 1103.7 1024.9 1107.2 1025.5 1108.6" stroke-width="1.2"/>
<path d="M951.2 1042.9 C950.5 1044.5 947.6 1049.2 947.1 1052.3 C946.7 1055.4 947.1 1058.1 948.5 1061.7 C949.8 1065.3 952.5 1069.3 955.2 1073.8 C957.9 1078.2 961.7 1084 964.6 1088.5 C967.5 1092.9 969.9 1096.6 972.6 1100.5 C975.3 1104.4 979.3 1110 980.6 1111.9" stroke-width="1.3"/>
<path d="M960.5 1037.6 C961.4 1039.6 965.2 1045.8 965.9 1049.6 C966.6 1053.4 963.7 1057 964.6 1060.4 C965.4 1063.7 969.2 1067.5 971.2 1069.7 C973.3 1072 975.7 1073.1 976.6 1073.8" stroke-width="1.2"/>
<path d="M982.6 1076.4 C984.1 1077.1 988.8 1078.2 991.3 1080.4 C993.9 1082.7 996.6 1086.5 998 1089.8 C999.5 1093.2 999.8 1097.4 1000 1100.5 C1000.3 1103.7 999.5 1107.2 999.4 1108.6" stroke-width="1.2"/>
<ellipse cx="1009.4" cy="1115.9" rx="7.4" ry="7.4" transform="rotate(0 1009.4 1115.9)" stroke-width="1.8"/>
<ellipse cx="1009.4" cy="1115.9" rx="2.4" ry="2.4" transform="rotate(0 1009.4 1115.9)" stroke-width="1.4"/>
<path d="M990 1071.1 C990.7 1070.4 992.7 1066.8 994 1067.1 C995.4 1067.3 997.4 1071.5 998 1072.4" stroke-width="1.2"/>
<path d="M854.7 1376.7 L882.5 1360.4"/>
<path d="M882.5 1360.4 C884.4 1360.9 890.2 1360.9 893.4 1363.1 C896.6 1365.4 899.4 1370.3 901.5 1374 C903.6 1377.6 905.2 1381.8 905.9 1385.1 C906.5 1388.4 905.4 1392.4 905.3 1393.9"/>
<path d="M874.4 1411.1 L905.3 1393.9"/>
<ellipse cx="860.8" cy="1395.9" rx="13.3" ry="20.6" transform="rotate(-24 860.8 1395.9)"/>
<ellipse cx="861.1" cy="1395.9" rx="5.4" ry="9.2" transform="rotate(-24 861.1 1395.9)" stroke-width="1.4"/>
<ellipse cx="934.1" cy="1354.2" rx="14.2" ry="20.1" transform="rotate(-24 934.1 1354.2)" stroke-width="2.2"/>
<ellipse cx="933.4" cy="1354.6" rx="9.8" ry="15.2" transform="rotate(-24 933.4 1354.6)" stroke-width="1.3"/>
<ellipse cx="932.7" cy="1355" rx="4.9" ry="8.9" transform="rotate(-24 932.7 1355)" stroke-width="1.6"/>
<ellipse cx="932.7" cy="1355" rx="3" ry="6.8" transform="rotate(-24 932.7 1355)" stroke-width="1.2"/>
<path d="M938.1 1337.6 C939.5 1339 944.4 1342.6 946.3 1345.8 C948.2 1348.9 949.4 1353.2 949.7 1356.6 C949.9 1360 948 1364.5 947.6 1366.1" stroke-width="1.2"/>
<path d="M734.1 1462.4 L825.6 1412.2"/>
<path d="M741.5 1474.6 L833.7 1424.4"/>
<path d="M825.6 1412.2 C826.6 1412.5 830.1 1412.7 831.7 1414 C833.3 1415.2 834.7 1417.9 835.1 1419.7 C835.4 1421.4 834 1423.6 833.7 1424.4"/>
<path d="M800.5 1426 C801.2 1426.7 803.7 1428.3 804.8 1430.1 C806 1431.9 806.9 1435.8 807.3 1436.9" stroke-width="1.1"/>
<path d="M804 1424.1 C804.8 1424.8 807.2 1426.4 808.4 1428.2 C809.5 1430 810.4 1433.8 810.8 1434.9" stroke-width="1.1"/>
<path d="M807.6 1422.2 C808.3 1422.8 810.8 1424.4 811.9 1426.2 C813 1428 813.9 1431.9 814.3 1433" stroke-width="1.1"/>
<path d="M811.1 1420.2 C811.8 1420.9 814.3 1422.5 815.4 1424.3 C816.6 1426.1 817.5 1429.9 817.9 1431.1" stroke-width="1.1"/>
<path d="M814.6 1418.3 C815.3 1419 817.8 1420.5 818.9 1422.3 C820.1 1424.2 821 1428 821.4 1429.1" stroke-width="1.1"/>
<path d="M818.1 1416.3 C818.9 1417 821.3 1418.6 822.5 1420.4 C823.6 1422.2 824.5 1426.1 824.9 1427.2" stroke-width="1.1"/>
<path d="M821.7 1414.4 C822.4 1415.1 824.9 1416.7 826 1418.5 C827.1 1420.3 828 1424.1 828.4 1425.2" stroke-width="1.1"/>
<path d="M825.2 1412.5 C825.9 1413.1 828.4 1414.7 829.5 1416.5 C830.7 1418.3 831.6 1422.2 832 1423.3" stroke-width="1.1"/>
<ellipse cx="730.7" cy="1475.9" rx="6.8" ry="14.6" transform="rotate(-25 730.7 1475.9)" stroke-width="1.6"/>
<ellipse cx="727.3" cy="1477.3" rx="6.8" ry="14.6" transform="rotate(-25 727.3 1477.3)" stroke-width="1.3"/>
<path d="M724.6 1464 C723.3 1464.3 719.7 1464.5 717.1 1465.8 C714.5 1467.1 710.8 1469.7 709 1471.9 C707.2 1474 706.4 1476.2 706.3 1478.6 C706.2 1481.1 706.7 1484.3 708.3 1486.8 C709.9 1489.3 713.4 1492.7 715.8 1493.6 C718.1 1494.5 720.1 1492.9 722.5 1492.2 C725 1491.5 729.3 1489.7 730.7 1489.2" stroke-width="1.6"/>
<ellipse cx="723.9" cy="1478" rx="5.2" ry="8.4" transform="rotate(-25 723.9 1478)" stroke-width="1.2"/>
<path d="M709 1471.9 L717.1 1470.5 L719.2 1480 L715.8 1493.6" stroke-width="1.1"/>
<path d="M436.9 1332.1 C435.9 1331.3 433.7 1330.6 431.5 1331 C429.4 1331.5 425.8 1332.9 424.1 1334.7 C422.4 1336.6 421.4 1339.7 421.1 1342.2 C420.8 1344.7 421.5 1347.8 422.5 1349.7 C423.5 1351.5 425.2 1353 427.3 1353.4 C429.3 1353.7 432.8 1352.8 434.7 1351.8 C436.7 1350.8 438.4 1349 439 1347.5 C439.6 1346.1 439 1344.5 438.5 1343.3 C437.9 1342 436 1341.3 435.8 1340.1 C435.6 1338.8 437.2 1337.1 437.4 1335.8 C437.6 1334.5 437.9 1332.9 436.9 1332.1 Z" stroke-width="1.5"/>
<path d="M432.1 1335.8 C431.3 1336.5 428.2 1338.5 427.3 1340.1 C426.4 1341.7 426.4 1343.9 426.8 1345.4 C427.1 1346.9 427.9 1349.1 429.4 1349.1 C430.9 1349.1 434.7 1346 435.8 1345.4" stroke-width="1.2"/>
<path d="M427.3 1341.1 L434.7 1340.1" stroke-width="1.2"/>
<path d="M458.2 1353.9 C459.2 1352.7 461.6 1351.2 463.5 1350.7 C465.5 1350.3 468.1 1350.4 469.9 1351.3 C471.7 1352.1 473.2 1354.2 474.2 1356.1 C475.1 1357.9 475.9 1360.3 475.8 1362.4 C475.6 1364.6 474.6 1367.1 473.1 1368.8 C471.6 1370.6 468.7 1372.2 466.7 1373.1 C464.8 1374 462.9 1374.5 461.4 1374.2 C459.9 1373.8 458.2 1371.9 457.7 1371 C457.1 1370.1 457.4 1369.7 458.2 1368.8 C459 1367.9 462.2 1367.1 462.4 1365.6 C462.7 1364.2 460.6 1361.6 459.8 1360.3 C459 1359.1 457.9 1359.2 457.7 1358.2 C457.4 1357.1 457.2 1355.2 458.2 1353.9 Z" stroke-width="1.5"/>
<path d="M461.4 1356.1 C461.9 1357.1 463.8 1360.7 464.6 1362.4 C465.4 1364.2 465.9 1366 466.2 1366.7" stroke-width="1.1"/>
<path d="M529.8 1419.4 C528.8 1418.6 526.6 1417.9 524.5 1418.4 C522.3 1418.8 518.7 1420.2 517 1422.1 C515.3 1424 514.3 1427.1 514 1429.6 C513.7 1432.1 514.4 1435.2 515.4 1437 C516.4 1438.9 518.1 1440.4 520.2 1440.8 C522.2 1441.1 525.7 1440.1 527.6 1439.2 C529.6 1438.2 531.3 1436.3 531.9 1434.9 C532.5 1433.5 531.9 1431.9 531.4 1430.6 C530.8 1429.4 528.9 1428.7 528.7 1427.4 C528.5 1426.2 530.1 1424.5 530.3 1423.2 C530.5 1421.8 530.8 1420.2 529.8 1419.4 Z" stroke-width="1.5"/>
<path d="M525 1423.2 C524.2 1423.9 521.1 1425.8 520.2 1427.4 C519.3 1429 519.3 1431.3 519.7 1432.8 C520 1434.3 520.8 1436.5 522.3 1436.5 C523.8 1436.5 527.6 1433.4 528.7 1432.8" stroke-width="1.2"/>
<path d="M520.2 1428.5 L527.6 1427.4" stroke-width="1.2"/>
<path d="M551.1 1441.3 C552.1 1440 554.5 1438.5 556.4 1438.1 C558.4 1437.6 561 1437.7 562.8 1438.6 C564.6 1439.5 566.1 1441.5 567.1 1443.4 C568 1445.3 568.8 1447.7 568.7 1449.8 C568.5 1451.9 567.5 1454.4 566 1456.2 C564.5 1458 561.6 1459.6 559.6 1460.5 C557.7 1461.3 555.8 1461.9 554.3 1461.5 C552.8 1461.2 551.1 1459.2 550.6 1458.3 C550 1457.4 550.3 1457.1 551.1 1456.2 C551.9 1455.3 555.1 1454.4 555.3 1453 C555.6 1451.6 553.5 1448.9 552.7 1447.7 C551.9 1446.4 550.8 1446.6 550.6 1445.5 C550.3 1444.5 550.1 1442.5 551.1 1441.3 Z" stroke-width="1.5"/>
<path d="M554.3 1443.4 C554.8 1444.5 556.7 1448 557.5 1449.8 C558.3 1451.6 558.8 1453.4 559.1 1454.1" stroke-width="1.1"/>
<path d="M446.9 1680.2 C446.6 1679.3 444.6 1676.9 444.8 1674.5 C444.9 1672 445.7 1667.8 447.7 1665.4 C449.8 1663 453.8 1660.2 456.8 1660 C459.8 1659.7 462.4 1661.9 465.9 1663.8 C469.3 1665.6 473.5 1668.8 477.4 1671.2 C481.2 1673.5 484.8 1676.7 488.9 1678.1 C493 1679.4 494.9 1679.7 502.1 1679.4 C509.2 1679.1 521.3 1677.1 531.7 1676.1 C542.1 1675.1 553.7 1674.2 564.6 1673.1 C575.6 1672.1 588.2 1670.4 597.6 1669.8 C606.9 1669.2 614 1669.1 620.6 1669.5 C627.2 1670 631.1 1670.7 637.1 1672.5 C643.1 1674.3 650.3 1677.1 656.9 1680.2 C663.4 1683.3 670.7 1687.8 676.6 1690.9 C682.5 1694.1 689.6 1697.8 692.3 1699.2" stroke-width="1.9"/>
<path d="M446.9 1680.2 C450.1 1682 460 1687.8 465.9 1690.9 C471.8 1694.1 476.8 1697.1 482.3 1699.2 C487.8 1701.2 490.6 1702.9 498.8 1703.3 C507 1703.7 520.7 1702.3 531.7 1701.6 C542.7 1700.9 555 1699.9 564.6 1699.2 C574.3 1698.4 581.1 1697.6 589.3 1697.2 C597.6 1696.8 607.2 1696.2 614 1696.7 C620.9 1697.1 625 1697.9 630.5 1700 C636 1702 641.5 1705.7 647 1709 C652.5 1712.3 658.8 1716.7 663.4 1719.7 C668.1 1722.8 673 1725.9 675 1727.1" stroke-width="1.9"/>
<ellipse cx="683.5" cy="1713.6" rx="9.5" ry="16.1" transform="rotate(24 683.5 1713.6)" stroke-width="1.8"/>
<ellipse cx="683.5" cy="1714" rx="5.6" ry="10.9" transform="rotate(24 683.5 1714)" stroke-width="1.5"/>
<ellipse cx="428.5" cy="1656.3" rx="12.8" ry="14.5" transform="rotate(20 428.5 1656.3)" stroke-width="1.9"/>
<path d="M424.8 1670.4 C424.9 1668.5 424.3 1662.8 425.5 1659.3 C426.8 1655.9 431.1 1651.3 432.2 1649.7" stroke-width="1.6"/>
<path d="M421.8 1667.9 C422 1666.2 421.6 1661.1 422.9 1657.8 C424.1 1654.5 428.2 1649.8 429.2 1648.2" stroke-width="1.2"/>
<path d="M420.4 1655.6 L433.7 1644.5" stroke-width="1.5"/>
<path d="M424.8 1660.8 L435.1 1649" stroke-width="1.3"/>
<path d="M421.1 1650.4 L430 1643" stroke-width="1.4"/>
<path d="M425.5 1643.8 C425.2 1643.3 423.2 1641.5 423.3 1640.8 C423.4 1640.2 425.3 1639.4 426.3 1639.8 C427.3 1640.2 428.7 1642.5 429.2 1643" stroke-width="1.5"/>
<path d="M430 1642.7 C429.8 1642.2 428.7 1639.8 429.2 1639.3 C429.7 1638.8 432.2 1639 432.9 1639.8 C433.7 1640.5 433.5 1643.1 433.7 1643.8" stroke-width="1.5"/>
<ellipse cx="709.5" cy="1728.8" rx="15.1" ry="18.1" transform="rotate(20 709.5 1728.8)" stroke-width="1.9"/>
<path d="M704.9 1746.3 C705.1 1744 704.3 1736.8 705.8 1732.5 C707.4 1728.2 712.8 1722.5 714.2 1720.5" stroke-width="1.6"/>
<path d="M701.2 1743.2 C701.4 1741.1 701 1734.7 702.5 1730.6 C704.1 1726.5 709.1 1720.6 710.5 1718.6" stroke-width="1.2"/>
<path d="M699.4 1727.9 L716 1714" stroke-width="1.5"/>
<path d="M704.9 1734.3 L717.9 1719.5" stroke-width="1.3"/>
<path d="M700.3 1721.4 L711.4 1712.2" stroke-width="1.4"/>
<path d="M705.8 1713.1 C705.4 1712.5 702.9 1710.2 703.1 1709.4 C703.2 1708.6 705.5 1707.6 706.8 1708.1 C708 1708.6 709.8 1711.5 710.5 1712.2" stroke-width="1.5"/>
<path d="M711.4 1711.8 C711.2 1711.1 709.8 1708.2 710.5 1707.5 C711.1 1706.9 714.2 1707.2 715.1 1708.1 C716 1709 715.9 1712.2 716 1713.1" stroke-width="1.5"/>
<path d="M219.6 1702.8 L234.1 1694.5"/>
<path d="M228.3 1715.5 L242.8 1706.1"/>
<path d="M234.1 1694.5 C235.1 1694.9 238.7 1695.6 240.2 1696.9 C241.7 1698.3 242.7 1700.9 243.1 1702.5 C243.5 1704 242.9 1705.5 242.8 1706.1"/>
<path d="M223.9 1700.3 C224.6 1701 227 1702.6 228 1704.4 C229 1706.1 229.7 1709.7 230 1710.8" stroke-width="1.1"/>
<path d="M227.4 1698.3 C228.1 1699 230.5 1700.7 231.5 1702.4 C232.5 1704.1 233.2 1707.7 233.5 1708.8" stroke-width="1.1"/>
<path d="M230.9 1696.4 C231.6 1697 233.9 1698.7 235 1700.4 C236 1702.2 236.7 1705.8 237 1706.8" stroke-width="1.1"/>
<path d="M234.4 1694.4 C235.1 1695.1 237.4 1696.7 238.5 1698.5 C239.5 1700.2 240.1 1703.8 240.5 1704.9" stroke-width="1.1"/>
<ellipse cx="218.8" cy="1712.6" rx="6.1" ry="12.8" transform="rotate(-28 218.8 1712.6)" stroke-width="1.6"/>
<ellipse cx="215.9" cy="1714.1" rx="6.1" ry="12.8" transform="rotate(-28 215.9 1714.1)" stroke-width="1.3"/>
<path d="M210.8 1702.2 C209.6 1702.5 205.7 1702.2 203.6 1703.9 C201.5 1705.7 199.1 1710.1 198.1 1712.6 C197 1715.2 196.8 1716.8 197.5 1719.2 C198.2 1721.6 200.4 1725.5 202.1 1727.2 C203.9 1728.9 205.3 1729.1 207.9 1729.3 C210.6 1729.6 215.4 1729.6 218.1 1728.9 C220.8 1728.2 223 1725.6 223.9 1725" stroke-width="1.7"/>
<path d="M202.1 1709.7 L210.1 1708.3 L215.9 1715.5 L216.7 1724.3 L210.1 1727.2 L203.6 1721.4" stroke-width="1.2"/>
<path d="M210.1 1708.3 L209.4 1717 L216.7 1724.3" stroke-width="1.1"/>
<path d="M673.8 734 C674.1 731.3 676.1 729.9 677.9 728.9 C679.6 727.8 681.7 727.2 684.4 727.6 C687.1 727.9 691.4 729.2 694.1 730.8 C696.8 732.4 698.7 733.8 700.5 737.3 C702.4 740.8 704.2 746.7 705.4 751.8 C706.6 757 707.2 764 707.8 768 C708.5 772.1 709.9 773.8 709.4 776.1 C709 778.4 707.2 780.6 705.4 781.8 C703.6 783 701.2 783.7 698.9 783.4 C696.6 783.1 693.7 781.6 691.6 780.2 C689.6 778.7 688.3 777.9 686.8 774.5 C685.3 771.1 684.5 764.8 682.7 759.9 C681 755.1 677.8 749.7 676.3 745.4 C674.8 741 673.6 736.8 673.8 734 Z" stroke-width="1.7"/>
<path d="M692.5 732.4 C693.5 733.5 697.2 735.6 698.9 738.9 C700.7 742.1 701.9 747 703 751.8 C704.1 756.7 704.7 763.7 705.4 768 C706.1 772.3 706.8 776.1 707 777.7" stroke-width="1.1"/>
<ellipse cx="687.1" cy="742.1" rx="5.2" ry="3.2" transform="rotate(35 687.1 742.1)" stroke-width="1.5"/>
<path d="M643.6 764.8 C643.6 762.2 644.9 760.5 646.3 759.1 C647.7 757.8 649.4 756.8 652 756.7 C654.6 756.6 658.7 756.8 661.7 758.3 C664.7 759.8 667.8 762.6 669.8 765.6 C671.8 768.6 673 771.7 673.8 776.1 C674.7 780.6 674.6 786.9 674.7 792.3 C674.7 797.7 674.9 804.8 674.3 808.5 C673.8 812.1 672.8 812.9 671.4 814.1 C670 815.3 667.9 816 665.8 815.8 C663.6 815.5 660.6 814.3 658.5 812.5 C656.3 810.8 653.9 808.6 652.8 805.2 C651.7 801.9 652.1 796.1 652 792.3 C651.9 788.5 652.9 785.5 652 782.6 C651.1 779.6 647.7 777.5 646.3 774.5 C644.9 771.5 643.6 767.3 643.6 764.8 Z" stroke-width="1.7"/>
<path d="M648.8 761.9 C650.1 761.5 654 759.3 656.9 759.9 C659.7 760.5 663.6 762.9 665.8 765.6 C667.9 768.3 669 771.7 669.8 776.1 C670.6 780.6 670.5 786.4 670.6 792.3 C670.7 798.2 670.6 808.5 670.6 811.7" stroke-width="1.1"/>
<ellipse cx="657.7" cy="772.1" rx="5.5" ry="3.6" transform="rotate(38 657.7 772.1)" stroke-width="1.5"/>
<path d="M652.8 782.6 L665.8 783.5" stroke-width="1.1"/>
<path d="M612.3 802.8 C611.1 803.3 607 804 605.1 806 C603.1 808.1 601.1 812 600.5 814.9 C600 817.9 600.7 821.4 601.8 823.8 C603 826.3 605.3 828.6 607.5 829.5 C609.7 830.4 612.8 830 614.8 829.2 C616.8 828.4 618.8 825.4 619.6 824.7" stroke-width="1.6"/>
<ellipse cx="617.2" cy="814.1" rx="6.1" ry="12.1" transform="rotate(-30 617.2 814.1)" stroke-width="1.5"/>
<ellipse cx="620.4" cy="812" rx="6.1" ry="12.1" transform="rotate(-30 620.4 812)" stroke-width="1.3"/>
<path d="M622.9 801.2 L629.3 795.2" stroke-width="1.5"/>
<path d="M628.5 819.8 L637.8 806" stroke-width="1.5"/>
<path d="M629.3 795.2 C630.3 795.4 633.5 795.3 635 796.3 C636.5 797.3 637.8 799.6 638.2 801.2 C638.7 802.8 637.8 805.2 637.8 806" stroke-width="1.5"/>
<path d="M623.7 800.4 C624.4 801.3 626.9 803.5 627.7 806 C628.6 808.6 628.7 814.1 628.9 815.8" stroke-width="1.1"/>
<path d="M627.2 798.1 C627.9 799.1 630.4 801.2 631.3 803.8 C632.1 806.3 632.2 811.9 632.4 813.5" stroke-width="1.1"/>
<path d="M630.8 795.8 C631.5 796.8 634 798.9 634.8 801.5 C635.7 804.1 635.8 809.6 636 811.2" stroke-width="1.1"/>
<path d="M605.1 813.3 L611.5 810.9 L615.6 819.8 L611.5 826.3" stroke-width="1.1"/>
<ellipse cx="1312.3" cy="692.2" rx="10.4" ry="14.4" transform="rotate(-28 1312.3 692.2)" stroke-width="1.3"/>
<path d="M1306.8 678.4 L1323.8 665.1" stroke-width="1.4"/>
<path d="M1323.8 665.1 C1325.2 665.4 1329.7 665.3 1332.3 667 C1335 668.7 1338 672.4 1339.8 675.2 C1341.6 678 1342.6 681.3 1343 683.7 C1343.4 686.1 1342.3 688.6 1342.2 689.6" stroke-width="1.4"/>
<path d="M1321.7 705.8 L1342.2 689.6" stroke-width="1.4"/>
<path d="M1310.5 675.5 C1311.7 676.4 1315.6 678.3 1317.4 680.8 C1319.3 683.3 1321 686.9 1321.7 690.4 C1322.4 694 1321.7 700.2 1321.7 702.1" stroke-width="1"/>
<path d="M1312.9 673.9 C1314 674.8 1317.9 676.7 1319.8 679.2 C1321.6 681.7 1323.3 685.4 1324 688.8 C1324.7 692.3 1324 698.1 1324 699.9" stroke-width="1"/>
<path d="M1315.2 672.3 C1316.4 673.2 1320.3 675.1 1322.1 677.6 C1324 680.1 1325.7 683.9 1326.4 687.2 C1327.1 690.6 1326.4 695.9 1326.4 697.7" stroke-width="1"/>
<path d="M1317.5 670.7 C1318.7 671.6 1322.6 673.5 1324.5 676 C1326.3 678.5 1328 682.4 1328.7 685.6 C1329.4 688.9 1328.7 693.8 1328.7 695.4" stroke-width="1"/>
<path d="M1319.9 669.1 C1321 670 1324.9 671.9 1326.8 674.4 C1328.7 676.9 1330.4 680.9 1331.1 684 C1331.8 687.1 1331.1 691.7 1331.1 693.2" stroke-width="1"/>
<path d="M1322.2 667.5 C1323.4 668.4 1327.3 670.4 1329.2 672.8 C1331 675.3 1332.7 679.4 1333.4 682.4 C1334.1 685.4 1333.4 689.5 1333.4 690.9" stroke-width="1"/>
<path d="M1324.6 665.9 C1325.7 666.8 1329.6 668.8 1331.5 671.2 C1333.4 673.7 1335 677.9 1335.8 680.8 C1336.5 683.7 1335.8 687.4 1335.8 688.7" stroke-width="1"/>
<path d="M1326.9 664.3 C1328.1 665.2 1332 667.2 1333.8 669.6 C1335.7 672.1 1337.4 676.4 1338.1 679.2 C1338.8 682 1338.1 685.3 1338.1 686.5" stroke-width="1"/>
<path d="M1036 940.9 C1035.9 938.9 1035.3 928.6 1035.5 925.9 C1035.6 923.2 1036.3 921.7 1037.1 920.5 C1037.8 919.3 1039.9 917.7 1041.3 916.8 C1042.7 916 1045.9 914.4 1047.7 914.1 C1049.6 913.9 1052.9 914.5 1055.2 915.2 C1057.4 915.9 1062.3 918.5 1064.8 919.5 C1067.2 920.5 1071.6 922.5 1073.3 922.7 C1075 922.8 1077.1 921.8 1077.6 920.5 C1078 919.3 1077.2 915.2 1076.5 913.1 C1075.8 910.9 1073.8 906.8 1072.2 904.5 C1070.7 902.3 1066.9 898.2 1064.8 896 C1062.6 893.9 1058.3 890.5 1056.2 888.6 C1054.2 886.6 1050.6 883.2 1049.3 881.1 C1048 879 1046.9 875.8 1046.6 872.6 C1046.4 869.3 1046.9 861.1 1047.2 856.6 C1047.4 852 1048.8 841.6 1048.6 838.5 C1048.4 835.3 1046.9 834.8 1045.6 833.1 C1044.3 831.4 1040.1 827.7 1038.7 825.7 C1037.2 823.7 1035.1 820.1 1034.4 818.2 C1033.7 816.4 1033.4 813.3 1033.6 811.8 C1033.9 810.3 1035.1 808.2 1036.5 807 C1037.9 805.9 1042.5 804.2 1044 803.3 C1045.5 802.4 1047.4 801.7 1047.9 800.1 C1048.5 798.5 1047.6 792.8 1047.9 791 C1048.3 789.3 1049.3 787.8 1050.4 786.8 C1051.4 785.8 1054.3 784.2 1055.7 783.6 C1057.1 782.9 1059.7 781.8 1061 781.8 C1062.4 781.8 1062.5 781.6 1065.8 783.6 C1069.2 785.5 1083.4 794.7 1086.1 796.4" stroke-width="2.1"/>
<path d="M1086.1 796.4 L1109 782.5 L1108.5 772.4 L1110.6 769.7 L1143.6 754.3 L1151.1 750" stroke-width="2.1"/>
<path d="M1109 782.5 L1141 764.9" stroke-width="1.8"/>
<path d="M1141 764.9 C1142.1 765 1145.9 764.5 1147.9 765.5 C1149.9 766.4 1151.6 768.4 1153.2 770.8 C1154.8 773.2 1156.8 778.3 1157.5 779.8" stroke-width="1"/>
<path d="M1111.7 809.7 L1167.1 778.2" stroke-width="1.8"/>
<path d="M1167.1 778.2 C1168.2 778.2 1170.3 776.6 1173.5 777.7 C1176.7 778.9 1182 781.3 1186.3 785.2 C1190.5 789.1 1195.3 795.5 1199.1 801.2 C1202.8 806.8 1206.5 813.4 1208.7 819.3 C1210.8 825.1 1211.3 833.5 1211.9 836.3" stroke-width="1"/>
<path d="M1088.2 798 L1111.7 811.8 L1124.5 819.3 L1136.2 812.9 L1152.2 822.5 L1153.2 833.1" stroke-width="2.1"/>
<path d="M1152.2 822.5 L1142.6 828.9 L1152.2 835.3" stroke-width="1.8"/>
<path d="M1152.2 835.3 C1153.8 836.3 1158.9 839.5 1161.8 841.7 C1164.6 843.8 1167.4 845.6 1169.2 848.1 C1171.1 850.5 1172.1 853.7 1172.9 856.6 C1173.7 859.4 1174.1 861.6 1174 865.1 C1173.9 868.7 1172.5 874.2 1172.4 877.9 C1172.3 881.6 1172.6 884.3 1173.5 887.5 C1174.4 890.7 1176 893.9 1177.7 897.1 C1179.5 900.3 1182 903.1 1184.1 906.7 C1186.3 910.2 1188.9 914.7 1190.5 918.4 C1192.1 922.1 1193 925.3 1193.7 929.1 C1194.4 932.8 1194.6 938.9 1194.8 940.9" stroke-width="2.1"/>
<path d="M1056.2 787.3 L1088.2 805.4 L1138.3 835.3" stroke-width="1.4"/>
<path d="M1138.3 835.3 C1141.7 837.1 1153.9 843.4 1158.6 846.5 C1163.2 849.5 1164.3 851 1166 853.4 C1167.7 855.8 1168.3 858.7 1168.7 860.8 C1169 863 1168.3 863.3 1168.2 866.2 C1168 869 1167.5 874.2 1167.6 877.9 C1167.7 881.6 1167.9 885 1168.7 888.6 C1169.5 892.1 1170.7 895.8 1172.4 899.2 C1174.1 902.6 1176.7 905.3 1178.8 908.8 C1180.9 912.4 1183.6 916.8 1185.2 920.5 C1186.8 924.3 1187.8 927.8 1188.4 931.2 C1189 934.6 1188.8 939.3 1188.9 940.9" stroke-width="1.4"/>
<path d="M1061.6 804.9 C1061.5 808.4 1061.1 828 1061 835.3 C1061 842.5 1060.8 862.5 1061 867.2 C1061.2 872 1062 874.2 1062.6 875.8 C1063.3 877.4 1065.4 879.6 1066.9 881.1 C1068.4 882.6 1073.7 886.4 1075.4 888.6 C1077.2 890.7 1080.6 896.7 1081.8 899.2 C1083.1 901.7 1085.3 907.4 1086.1 909.9 C1086.8 912.4 1088.2 918.3 1088.2 920.5 C1088.2 922.8 1087.1 927.3 1086.1 929.1 C1085.1 930.8 1081.6 934.1 1079.7 935.5 C1077.8 936.8 1071.2 940.3 1070.1 940.9" stroke-width="1.8"/>
<path d="M1061.6 804.9 L1065.8 805.4 L1082.9 815 L1082.4 829.9 L1085 834.2 L1088.2 833.7 L1088.2 843.8" stroke-width="1.8"/>
<path d="M1079.7 822.5 C1078.6 821.9 1075 818.9 1073.3 819.3 C1071.6 819.6 1070 822.3 1069.6 824.6 C1069.1 826.9 1069.7 830.1 1070.6 833.1 C1071.6 836.2 1073.2 840.6 1075.4 842.7 C1077.6 844.9 1082.5 845.4 1084 845.9" stroke-width="1.5"/>
<path d="M1084 845.9 L1102.1 835.3 L1103.7 831 L1098.9 824.6 L1086.1 816.6" stroke-width="1.5"/>
<path d="M1079.7 824.6 C1079 825 1076 825.3 1075.4 826.7 C1074.9 828.2 1075.4 831.2 1076.5 833.1 C1077.6 835.1 1080.4 838.1 1081.8 838.5 C1083.2 838.8 1084.5 835.8 1085 835.3" stroke-width="1.2"/>
<path d="M1086.1 817.1 L1113.8 833.1 L1112.7 860.8 L1124.5 872.6 L1146.8 860.8 L1142.6 849.1 L1118.1 835.3 L1119.7 859.8 L1125 868.3" stroke-width="2.1"/>
<path d="M1120.2 858.7 L1136.2 849.7" stroke-width="1.2"/>
<path d="M1146.8 860.8 C1148.4 862.8 1154.5 869.2 1156.4 872.6 C1158.4 875.9 1158.6 877 1158.6 881.1 C1158.6 885.2 1156.4 892.6 1156.4 897.1 C1156.4 901.5 1157.7 904.5 1158.6 907.7 C1159.4 910.9 1161.2 914.9 1161.8 916.3" stroke-width="1.8"/>
<ellipse cx="1158.6" cy="857.1" rx="3.2" ry="4.8" transform="rotate(-30 1158.6 857.1)" stroke-width="1.5"/>
<ellipse cx="1044.7" cy="819.8" rx="3.2" ry="4.8" transform="rotate(-25 1044.7 819.8)" stroke-width="1.5"/>
<ellipse cx="1120.7" cy="909.3" rx="11.9" ry="17.3" transform="rotate(-32 1120.7 909.3)" stroke-width="2"/>
<ellipse cx="1120.7" cy="908.8" rx="3.7" ry="5.9" transform="rotate(-30 1120.7 908.8)" stroke-width="1.4"/>
<path d="M1111.7 892.8 L1130.8 883.2" stroke-width="1.5"/>
<path d="M1135.1 922.7 L1159.6 909.9" stroke-width="1.8"/>
<path d="M1095.7 895 L1106.3 899.2" stroke-width="1.1"/>
<path d="M1075.4 843.8 C1075.2 845.9 1074 852.3 1074.4 856.6 C1074.7 860.8 1076 864.9 1077.6 869.4 C1079.2 873.8 1081.3 879.3 1084 883.2 C1086.6 887.1 1091.9 891.2 1093.5 892.8" stroke-width="1.2"/>
<path d="M1071.2 882.2 L1084 897.1" stroke-width="1.1"/>
<path d="M1065.8 883.2 C1068.1 885.5 1076.3 892.6 1079.7 897.1 C1083.1 901.5 1085 907.7 1086.1 909.9" stroke-width="1.1"/>
<path d="M1089.3 906.7 C1090 908.3 1093 913.1 1093.5 916.3 C1094.1 919.5 1092.7 924.3 1092.5 925.9" stroke-width="1.1"/>
<path d="M1208.7 874.7 C1209 877 1209.4 884.1 1210.8 888.6 C1212.2 893 1214.7 897.1 1217.2 901.4 C1219.7 905.6 1223.8 910.1 1225.7 914.1 C1227.7 918.2 1227.8 921.4 1228.9 925.9 C1230 930.3 1231.6 938.4 1232.1 940.9" stroke-width="1.3"/>
<path d="M1165.2 742.8 C1165.9 742.7 1171 741.5 1172.6 741.5 C1174.2 741.5 1179.5 742.1 1181.2 742.8 C1182.9 743.5 1188.3 748.1 1189.7 748.7 C1191.1 749.2 1192.8 747.3 1195 748.1 C1197.3 748.9 1210.2 755.4 1212.1 756.6 C1214 757.9 1214 760.5 1214.2 760.9" stroke-width="2.1"/>
<path d="M1130 760.9 L1143.9 755 L1165.2 742.8" stroke-width="2.1"/>
<path d="M1214.2 760.9 L1289.9 806.7 L1296.3 806.2 L1315.5 818.5" stroke-width="2.1"/>
<path d="M1315.5 818.5 C1315.8 818.8 1318.1 820 1318.1 821.7 C1318.1 823.3 1315 830.7 1315.5 832.3 C1315.9 833.9 1320.4 834.4 1321.9 835.5 C1323.3 836.6 1326.9 839.9 1328.2 841.9 C1329.6 843.9 1332.7 850.1 1333.6 852.6 C1334.4 855.1 1335.8 860.7 1335.7 863.2 C1335.6 865.7 1332.9 872.6 1332.5 873.9" stroke-width="2.1"/>
<path d="M1332.5 873.9 C1331.2 874.4 1321.6 877.9 1319.7 879.2 C1317.8 880.5 1313.8 885.5 1313.3 886.7 C1312.9 887.9 1313.1 889.1 1315.5 890.9 C1317.8 892.8 1334.6 903.4 1336.8 904.8" stroke-width="2.1"/>
<path d="M1332.5 873.9 C1333.6 875.7 1337.1 880.1 1338.9 884.5 C1340.7 889 1342.3 894.5 1343.2 900.5 C1344.1 906.6 1344.1 917.5 1344.2 920.9" stroke-width="2.1"/>
<path d="M1143.9 755.6 L1212.1 788.6" stroke-width="1.6"/>
<path d="M1152.4 752.9 L1219.5 786.5" stroke-width="1.6"/>
<path d="M1212.1 788.6 C1213 788.7 1216.2 789.2 1217.4 788.8 C1218.6 788.5 1219.2 786.9 1219.5 786.5" stroke-width="1.5"/>
<path d="M1165.2 755 L1215.3 780.1" stroke-width="1.3"/>
<path d="M1162 747.6 L1178 756.1 L1184.9 751.8 L1183.8 749.2 L1174.8 744.4" stroke-width="1.5"/>
<path d="M1197.7 767.8 L1205.1 763.6 L1204.6 771 Z" stroke-width="1.5"/>
<path d="M1204.6 771 L1223.8 783.8 L1231.3 780.1 L1208.9 764.1" stroke-width="1.5"/>
<path d="M1198.2 768.9 L1222.7 783.8" stroke-width="1.3"/>
<path d="M1172.6 778 L1228.1 803.5" stroke-width="1.2"/>
<path d="M1239.8 792.9 L1247.2 789.7 L1248.3 797.1 Z" stroke-width="1.5"/>
<path d="M1248.3 797.1 L1278.2 815.3 L1284.5 812.6" stroke-width="1.5"/>
<path d="M1250.4 789.7 L1283.5 808.3" stroke-width="1.3"/>
<path d="M1232.3 796.6 C1231.9 797.1 1229.8 798.3 1229.7 799.3 C1229.5 800.3 1231 801.9 1231.3 802.5" stroke-width="1.4"/>
<path d="M1231.3 802.5 C1235.3 804.9 1274.6 828.2 1279.2 831.3 C1283.8 834.3 1285.8 837.4 1286.7 838.7 C1287.6 840 1289.7 845.8 1289.9 847.2 C1290.1 848.7 1288.9 855.1 1288.8 855.8" stroke-width="1.6"/>
<path d="M1288.8 855.8 L1278.2 852.6 L1250.4 867.5" stroke-width="1.6"/>
<path d="M1237.7 798.2 C1241.6 800.3 1279.8 821 1284.5 823.8 C1289.3 826.5 1292.8 829.8 1294.1 831.3 C1295.5 832.7 1299.7 839.5 1300.5 840.8 C1301.3 842.2 1303.5 846.7 1303.7 847.2" stroke-width="1.5"/>
<path d="M1236.6 804.6 C1240.3 806.7 1276.9 827.4 1281.4 830.2 C1285.8 832.9 1288.9 836.3 1289.9 837.7 C1290.9 839 1292.9 844.9 1293.1 846.2 C1293.3 847.4 1292.6 852 1292.5 852.6" stroke-width="1.2"/>
<path d="M1298.4 828.1 L1305.9 824.3 L1311.2 832.3 L1312.3 841.9" stroke-width="1.4"/>
<path d="M1298.4 828.1 L1302.7 836.6 L1303.7 847.2" stroke-width="1.4"/>
<path d="M1305.9 824.3 L1302.7 836.6" stroke-width="1.2"/>
<path d="M1315.5 818.5 L1311.2 821.7 L1315.5 840.8" stroke-width="1.6"/>
<path d="M1174.2 865.9 L1235.5 835" stroke-width="1.8"/>
<path d="M1235.5 835 C1236.6 834.2 1240.1 832.2 1241.9 830.2 C1243.7 828.1 1245.5 824 1246.2 822.7" stroke-width="1.6"/>
<path d="M1172.6 867.5 C1173.2 868.3 1174.2 871.7 1175.8 872.3 C1177.4 872.9 1181.2 871.4 1182.2 871.2" stroke-width="1.5"/>
<path d="M1182.2 871.2 L1241.9 838.7 L1249.9 830.7" stroke-width="1.5"/>
<path d="M1250.4 827.5 L1250.4 853.6" stroke-width="1.5"/>
<path d="M1254.7 859.5 C1254.2 859.4 1253.6 858 1251.5 859 C1249.4 859.9 1245.1 862 1241.9 865.4 C1238.7 868.7 1234.8 874.1 1232.3 879.2 C1229.8 884.4 1228.1 890.9 1227 896.3 C1225.9 901.6 1225.7 907.1 1225.9 911.2 C1226.1 915.3 1227.7 919.3 1228.1 920.9" stroke-width="1.3"/>
<ellipse cx="1258.4" cy="889.6" rx="13.6" ry="22.6" transform="rotate(-26 1258.4 889.6)" stroke-width="1.5"/>
<ellipse cx="1258.4" cy="889.9" rx="4.1" ry="7.2" transform="rotate(-26 1258.4 889.9)" stroke-width="1.5"/>
<path d="M1208.9 875 C1208.9 876.6 1208.2 881 1208.9 884.5 C1209.6 888.1 1211.2 892.5 1213.1 896.3 C1215.1 900 1218.5 903.7 1220.6 906.9 C1222.7 910.1 1224.7 913.1 1225.9 915.5 C1227.2 917.8 1227.7 920 1228.1 920.9" stroke-width="1.7"/>
<path d="M1271.8 909.1 C1273.4 908.2 1285.7 901.2 1287.7 900.5 C1289.8 899.9 1289.9 903.1 1292 902.7 C1294.1 902.2 1306.3 896.7 1309.1 896.3 C1311.8 895.8 1316.9 897.4 1319.7 898.4 C1322.5 899.4 1335.1 905.1 1336.8 905.9" stroke-width="1.8"/>
<path d="M1292 902.7 L1277.1 920.9" stroke-width="1.5"/>
<path d="M1287.7 920.9 C1288.2 919.8 1290 913.2 1292 911.2 C1294 909.2 1302.3 904.5 1304.8 903.7 C1307.3 903 1312.1 903.9 1313.3 904.8 C1314.6 905.7 1315.2 909.3 1315.5 911.2 C1315.7 913.1 1315.5 919.8 1315.5 920.9" stroke-width="1.8"/>
<ellipse cx="1327.7" cy="913.3" rx="3.7" ry="5.9" transform="rotate(20 1327.7 913.3)" stroke-width="1.5"/>
<path d="M1036 940.9 C1035.9 941.4 1035.2 942.9 1035.5 944.5 C1035.7 946.1 1036.9 950.8 1038.1 953 C1039.3 955.3 1042.9 959.3 1044.5 961.6 C1046.1 963.8 1050 967.5 1050.4 970.1 C1050.8 972.7 1047.6 978.1 1047.7 980.8 C1047.8 983.5 1049.6 988.1 1050.9 990.3 C1052.2 992.6 1054.7 995.8 1057.3 997.8 C1059.9 999.8 1067.1 1003.6 1070.1 1005.3 C1073.1 1007 1077.6 1009.3 1079.7 1010.6 C1081.8 1011.9 1084.7 1013.2 1086.1 1014.9 C1087.5 1016.6 1088.8 1021.1 1090.3 1023.4 C1091.9 1025.7 1095 1029.8 1097.8 1031.9 C1100.6 1034 1108.7 1037.5 1111.7 1039.4 C1114.6 1041.2 1118.2 1044.4 1120.2 1045.8 C1122.2 1047.1 1125 1049.1 1126.6 1049.5 C1128.2 1049.9 1129.9 1050 1132.4 1049 C1135 1047.9 1143.7 1042.9 1145.8 1041.5 C1147.8 1040.1 1148 1039.2 1147.9 1038.3 C1147.8 1037.4 1145.8 1035.2 1144.7 1034.6 C1143.6 1034 1140.5 1033.5 1139.4 1033.8 C1138.2 1034.2 1136.8 1035.9 1136.2 1037.2 C1135.5 1038.6 1134.8 1042.8 1134.6 1043.6" stroke-width="2.1"/>
<path d="M1147.9 1037.2 C1149.8 1038 1160.8 1042.8 1163.9 1043.6 C1167 1044.4 1172.7 1044.3 1174.5 1044.2 C1176.4 1044 1178.5 1043.5 1179.9 1042.6 C1181.2 1041.6 1185 1037.5 1186.3 1036.2 C1187.5 1034.8 1189.5 1032.5 1190.5 1030.8 C1191.5 1029.2 1193.1 1023.6 1194.8 1022.3 C1196.5 1021 1203.7 1020.4 1205.5 1019.7 C1207.2 1018.9 1209 1017.6 1209.7 1015.9 C1210.4 1014.2 1211.2 1008.5 1211.3 1005.3 C1211.4 1002 1211.2 991.2 1210.8 988.2 C1210.4 985.2 1208.7 981.6 1207.6 979.7 C1206.5 977.8 1202.7 973.6 1201.2 972.2 C1199.7 970.9 1195.8 969.1 1194.8 968 C1193.8 966.8 1192.8 965.7 1192.7 962.6 C1192.5 959.5 1193.7 945 1193.7 941.3 C1193.8 937.6 1193.7 933.1 1193.2 930.7 C1192.7 928.2 1189.9 921.2 1189.5 920" stroke-width="2.1"/>
<path d="M1188.9 940.9 C1188.9 942.2 1188.5 948.9 1188.4 952 C1188.3 955 1187.9 964.7 1188.4 966.9 C1188.9 969.1 1191.4 970.2 1192.7 971.2 C1193.9 972.2 1197.7 974.1 1199.1 975.4 C1200.4 976.8 1203.6 980.9 1204.4 982.9 C1205.2 984.9 1205.7 989.9 1206 992.5 C1206.2 995.1 1206.5 1002.5 1206.5 1005.3 C1206.5 1008 1206.2 1014.2 1206 1015.9 C1205.8 1017.7 1205 1019.7 1204.9 1020.2" stroke-width="1.4"/>
<path d="M1189.5 1019.7 C1189.1 1020.8 1188 1024 1187.3 1026.6 C1186.6 1029.2 1186.4 1032.4 1185.2 1035.1 C1184 1037.8 1180.8 1041.3 1179.9 1042.6" stroke-width="1.4"/>
<path d="M1190.5 1035.1 L1196.9 1026.6" stroke-width="1.2"/>
<path d="M1187.3 1033 L1192.7 1025.5" stroke-width="1.2"/>
<path d="M1070.1 940.9 C1069.5 941.1 1064.6 942.7 1063.7 943.4 C1062.8 944.2 1061.9 945.2 1061.6 948.8 C1061.2 952.4 1060.4 976 1060.5 979.7 C1060.6 983.4 1061.8 984.8 1062.6 986.1 C1063.5 987.4 1068.4 991.8 1069 992.5" stroke-width="1.8"/>
<path d="M1072.2 994.1 L1094.6 1007.4 L1109.5 1022.3" stroke-width="1.6"/>
<path d="M1109.5 1022.3 C1110.6 1022.9 1114.1 1025.3 1115.9 1025.5 C1117.7 1025.8 1118.9 1025 1120.2 1023.9 C1121.4 1022.9 1122.1 1020.4 1123.4 1019.1 C1124.6 1017.9 1126.9 1016.9 1127.7 1016.5" stroke-width="1.6"/>
<path d="M1127.7 1016.5 L1162.8 994.6" stroke-width="1.8"/>
<path d="M1162.8 994.6 C1163.9 994.3 1167.1 992.1 1169.2 992.5 C1171.4 992.8 1174.5 996 1175.6 996.7" stroke-width="1.1"/>
<path d="M1179.9 940.9 C1179.8 944.5 1179.4 977.7 1179.3 984 C1179.3 990.2 1179 1012.6 1178.8 1015.9 C1178.6 1019.2 1177.3 1022.3 1176.7 1023.4 C1176.1 1024.5 1172.5 1028.2 1171.4 1028.7 C1170.2 1029.2 1163.5 1029.7 1162.8 1029.8" stroke-width="1.9"/>
<path d="M1162.8 1029.8 L1128.7 1017" stroke-width="1.6"/>
<path d="M1179.3 953 C1177.8 953.1 1172.7 952.7 1170.3 953.6 C1167.9 954.5 1166.2 956.2 1165 958.4 C1163.7 960.6 1163 963.7 1162.8 966.9 C1162.6 970.1 1162.3 973.3 1163.9 977.6 C1165.5 981.8 1171 990 1172.4 992.5" stroke-width="1.2"/>
<path d="M1070.1 944.5 C1074.2 945.3 1085.5 948.1 1094.6 949.3 C1103.7 950.6 1113.8 952.1 1124.5 952 C1135.1 951.9 1151.5 949.9 1158.6 948.8 C1165.7 947.6 1165.7 945.7 1167.1 945" stroke-width="1.3" stroke-dasharray="9 2 2 2"/>
<path d="M1143.6 920 L1167.1 943.4" stroke-width="1.2"/>
<path d="M1151.1 927.5 L1165 941.3" stroke-width="1.1"/>
<path d="M1161.8 920 L1174.5 934.9" stroke-width="1.2"/>
<ellipse cx="1120.7" cy="979.2" rx="11.9" ry="17.3" transform="rotate(-32 1120.7 979.2)" stroke-width="2"/>
<ellipse cx="1120.7" cy="978.6" rx="3.7" ry="5.9" transform="rotate(-30 1120.7 978.6)" stroke-width="1.4"/>
<path d="M1130.8 994.6 L1162.8 977.6" stroke-width="1.8"/>
<path d="M1108.5 962.6 L1124.5 953" stroke-width="1.5"/>
<path d="M1069 980.8 L1110.6 958.4" stroke-width="1.1"/>
<path d="M1073.3 983.4 L1099.9 968.5" stroke-width="1.1"/>
<path d="M1103.1 1002.6 L1117 995.1" stroke-width="1.1"/>
<path d="M1103.1 1007.4 L1123.9 995.7" stroke-width="1.1"/>
<ellipse cx="1046.1" cy="954.1" rx="3.2" ry="5.1" transform="rotate(-25 1046.1 954.1)" stroke-width="1.5"/>
<ellipse cx="1125.5" cy="1037.2" rx="3.4" ry="4.8" transform="rotate(-35 1125.5 1037.2)" stroke-width="1.5"/>
<ellipse cx="1194.3" cy="984" rx="3.2" ry="5.1" transform="rotate(-25 1194.3 984)" stroke-width="1.5"/>
<path d="M1210.8 990.3 C1212.7 989.6 1220.2 987.9 1222.5 986.1 C1224.8 984.3 1225 982 1224.6 979.7 C1224.3 977.4 1221.1 973.5 1220.4 972.2" stroke-width="1.2"/>
<path d="M1343.9 921 C1343.6 924.9 1342.7 936.6 1342.3 944 C1341.9 951.3 1341.6 959.1 1341.5 965.3 C1341.5 971.5 1341.7 978.6 1341.8 981.3" stroke-width="2.1"/>
<path d="M1277.1 920.9 L1259.7 940.8" stroke-width="1.5"/>
<path d="M1315.4 920.9 C1315.4 922.6 1315.7 928 1315.1 931.2 C1314.5 934.3 1314 936.8 1311.9 939.7 C1309.8 942.5 1305.7 945.9 1302.3 948.2 C1298.9 950.5 1294.5 952.7 1291.7 953.5 C1288.8 954.4 1287.2 954.6 1285.3 953.5 C1283.3 952.5 1281 949.8 1279.9 947.1 C1278.9 944.5 1278.5 940.9 1278.9 937.6 C1279.2 934.2 1280.6 929.7 1282.1 926.9 C1283.5 924.1 1286.8 921.9 1287.7 920.9" stroke-width="1.8"/>
<path d="M1336.7 905.9 C1336.6 907 1336.5 911.2 1335.4 914.1 C1334.2 917 1329.9 924 1327.9 928 C1325.9 931.9 1323.3 940.1 1320.4 944 C1317.6 947.8 1310.1 953.9 1306.6 956.7 C1303 959.6 1296.9 964 1293.8 965.3 C1290.7 966.5 1286.8 966.3 1283.1 966.1 C1279.4 966 1270.3 965.1 1266.1 964.2 C1261.8 963.3 1253.2 960 1251.2 959.4" stroke-width="1.8"/>
<ellipse cx="1261.6" cy="951.6" rx="3" ry="5.9" transform="rotate(25 1261.6 951.6)" stroke-width="1.5"/>
<path d="M1256.5 946.1 C1255.9 947 1253.6 949.2 1252.8 951.4 C1252 953.6 1251.9 958.1 1251.7 959.4" stroke-width="1.2"/>
<path d="M1228 920.9 C1228.5 923.3 1230.3 930.9 1230.9 935.4 C1231.6 940 1231.4 944.7 1232 948.2 C1232.5 951.8 1233 954.3 1234.1 956.7 C1235.2 959.2 1237.7 962.1 1238.4 963.1" stroke-width="2.1"/>
<path d="M1239.4 939.2 C1239.1 940.1 1237.7 943 1237.3 945 C1236.9 947.1 1237.3 950.3 1237.3 951.4" stroke-width="1.1"/>
<path d="M1232 950.3 C1233.9 951.3 1247.8 957.9 1251.2 959.4 C1254.6 960.9 1263.3 963.9 1266.1 965.3 C1268.9 966.6 1277.3 971.1 1278.9 972.7 C1280.5 974.3 1281.7 978.3 1282.1 981.3 C1282.4 984.2 1282.5 998.3 1282.6 1002.6 C1282.7 1006.8 1283 1021.3 1282.6 1023.9 C1282.2 1026.4 1280 1027.7 1278.9 1028.2 C1277.8 1028.6 1272.4 1028.9 1271.4 1028.7 C1270.5 1028.5 1269.5 1026.3 1269.3 1026" stroke-width="2.1"/>
<path d="M1233 954.6 C1234.7 955.4 1247 960.7 1250.1 962.1 C1253.2 963.5 1261.5 967.1 1264 968.5 C1266.4 969.9 1273.2 974.4 1274.6 975.9 C1276 977.4 1277.5 978.7 1277.8 983.4 C1278.1 988.1 1277.8 1018.9 1277.8 1022.8" stroke-width="1.4"/>
<path d="M1234.1 958.9 C1234.7 959.4 1237.9 963 1240.5 964.2 C1243.1 965.4 1256.9 969.1 1259.7 970.6 C1262.5 972.1 1267.2 977.5 1268.2 979.1 C1269.2 980.7 1269.7 982.6 1269.8 986.6 C1270 990.5 1269.8 1012.3 1269.8 1018.6 C1269.8 1024.8 1270.2 1045.8 1269.8 1049.5 C1269.4 1053.1 1267.1 1054.2 1266.1 1054.8 C1265.1 1055.4 1260.3 1055.8 1259.7 1055.9" stroke-width="1.8"/>
<path d="M1229.8 966.3 C1230.5 966.4 1233.7 966.4 1236.2 967.4 C1238.8 968.4 1252.8 975 1255.4 976.5 C1258.1 978 1262 981 1262.9 982.3 C1263.8 983.7 1264.3 983.2 1264.5 989.8 C1264.7 996.4 1265 1042.5 1265 1048.4" stroke-width="1.3"/>
<path d="M1223.4 966.3 C1224.1 966.9 1227.6 970.3 1229.8 971.7 C1232.1 973 1243.3 978.7 1245.8 980.2 C1248.4 981.7 1254.2 985.1 1255.4 986.6 C1256.6 988.1 1257.8 990.8 1258.1 995.1 C1258.4 999.4 1258.1 1022.4 1258.1 1029.2 C1258.1 1036.1 1258.2 1059.8 1258.1 1063.5 C1257.9 1067.3 1257.1 1066.4 1256.5 1066.7 C1255.9 1067.1 1252.7 1067 1252.2 1067.1" stroke-width="1.9"/>
<path d="M1225.6 973.8 C1227.5 975 1242.2 983.7 1244.8 985.5 C1247.3 987.3 1250.4 990.2 1251.2 991.9 C1252 993.6 1252.7 995.1 1252.8 1002.6 C1252.9 1010 1252.3 1060.1 1252.2 1066.5" stroke-width="1.2" stroke-dasharray="10 2 2 2"/>
<path d="M1200 971.7 C1200.5 971.9 1203.1 972.6 1204.3 973.8 C1205.4 975 1208.8 979.6 1209.6 982.3 C1210.3 985.1 1210.5 993.1 1210.7 997.2 C1210.8 1001.3 1211.2 1014.6 1210.7 1017.5 C1210.2 1020.4 1207.6 1021.1 1206.4 1021.8 C1205.2 1022.4 1200.7 1022.7 1200 1022.8" stroke-width="1.9"/>
<path d="M1200 979.1 C1200.7 980 1203.4 981.4 1204.3 984.5 C1205.2 987.5 1205.2 991.7 1205.3 997.2 C1205.5 1002.8 1205.3 1014.1 1205.3 1017.5" stroke-width="1.2"/>
<path d="M1210.7 990.8 C1212.4 990.3 1218.9 989.1 1221.3 987.7 C1223.7 986.2 1225 985 1225 982.3 C1225 979.7 1221.9 973.4 1221.3 971.7" stroke-width="1.1"/>
<path d="M1284.2 971.7 C1284.8 972.3 1289.6 976.6 1290.6 978.1 C1291.6 979.6 1293.4 982.5 1293.8 986.6 C1294.2 990.6 1294.3 1007.3 1294.3 1018.6 C1294.4 1029.9 1294.3 1091.5 1294.3 1099.6" stroke-width="1.9"/>
<path d="M1281 973.8 C1281.6 974.3 1286.6 977.8 1287.4 979.1 C1288.2 980.4 1288.8 982.6 1289 986.6 C1289.2 990.5 1289.5 1006.9 1289.5 1018.6 C1289.6 1030.2 1289.5 1094.9 1289.5 1103.4" stroke-width="1.2" stroke-dasharray="12 2 2 2"/>
<path d="M1293.3 970.6 C1294.2 971.2 1301 975.6 1302.3 977 C1303.7 978.4 1306.1 980.3 1306.6 984.5 C1307.1 988.6 1307.1 1007.7 1307.1 1018.6 C1307.2 1029.5 1307.1 1085.9 1307.1 1093.4" stroke-width="1.9"/>
<path d="M1292.7 975.9 C1293.5 976.5 1299.2 980 1300.2 981.3 C1301.1 982.5 1302.1 985 1302.3 988.7 C1302.5 992.4 1302.3 1007.7 1302.3 1018.6 C1302.3 1029.4 1302.3 1089.3 1302.3 1097.2" stroke-width="1.2" stroke-dasharray="12 2 2 2"/>
<path d="M1306.6 975.4 C1307.4 975.9 1313.8 979 1315.1 980.2 C1316.4 981.4 1318.9 983.8 1319.4 987.7 C1319.9 991.5 1319.9 1008.4 1319.9 1018.6 C1320 1028.7 1319.9 1081.8 1319.9 1088.8" stroke-width="1.9"/>
<path d="M1310.8 982.3 C1311.2 983 1314.2 985.1 1314.6 988.7 C1315 992.3 1315.1 1008.2 1315.1 1018.6 C1315.2 1028.9 1315.1 1085.2 1315.1 1092.6" stroke-width="1.2" stroke-dasharray="12 2 2 2"/>
<path d="M1321.5 978.6 C1322.1 979.1 1326.8 982.2 1327.9 983.4 C1329 984.6 1331.7 987.3 1332.2 990.8 C1332.6 994.4 1332.2 1009.6 1332.2 1018.6 C1332.2 1027.5 1332.2 1074.2 1332.2 1080.3" stroke-width="1.9"/>
<path d="M1323.6 984.5 C1324.1 985.2 1327.4 988.5 1327.9 991.9 C1328.4 995.3 1328.4 1009.3 1328.4 1018.6 C1328.5 1027.8 1328.4 1077.5 1328.4 1084.1" stroke-width="1.2" stroke-dasharray="12 2 2 2"/>
<path d="M1330.6 979.1 C1331.4 979.6 1337.2 982.2 1338.6 983.4 C1339.9 984.6 1343.3 987.3 1343.9 990.8 C1344.5 994.4 1344.4 1010.5 1344.4 1018.6 C1344.5 1026.6 1344.4 1066.4 1344.4 1071.7" stroke-width="1.9"/>
<path d="M1336.4 987.7 C1336.8 988.4 1339.7 992 1340.2 995.1 C1340.6 998.2 1340.6 1010.5 1340.7 1018.6 C1340.7 1026.6 1340.7 1069.8 1340.7 1075.5" stroke-width="1.2" stroke-dasharray="12 2 2 2"/>
<path d="M1341.8 981.3 C1342.7 981.7 1349.8 984.5 1351.4 985.5 C1352.9 986.6 1356.9 990.7 1357.7 991.9 C1358.5 993.1 1359.2 994.6 1359.3 997.2 C1359.5 999.9 1359.3 1011.7 1359.3 1018.6 C1359.3 1025.4 1359.3 1060.8 1359.3 1065.5" stroke-width="1.9"/>
<path d="M1349.2 991.9 C1349.6 992.7 1353.1 996.7 1353.5 999.4 C1353.9 1002 1353.5 1011.6 1353.5 1018.6 C1353.5 1025.5 1353.5 1064.2 1353.5 1069.3" stroke-width="1.2" stroke-dasharray="12 2 2 2"/>
<path d="M1286.7 1106.2 L1294.5 1099.2 L1299.9 1099.2 L1306.9 1094.8 L1307.7 1091.4 L1313.1 1093 L1320 1089.1 L1321.6 1084.5 L1330.9 1082.1 L1332.4 1077.5 L1339.4 1077.5 L1345.6 1072.8 L1346.4 1069.7 L1351.8 1071.3 L1359.6 1066.6 L1359.6 1062" stroke-width="1.8"/>
<path d="M1180.6 1044.9 L1286.7 1106.2" stroke-width="2.1"/>
<path d="M1191.4 1036.4 L1248.8 1068.2" stroke-width="1.6"/>
<path d="M1248.8 1068.2 C1249.8 1068.2 1253.4 1069.3 1255 1068.5 C1256.5 1067.7 1257.5 1064.4 1258.1 1063.5" stroke-width="1.6"/>
<path d="M1289.8 1106.9 L1289.8 1046.5" stroke-width="1.1" stroke-dasharray="12 2 2 2"/>
</g>
<g fill="none" stroke="#000" stroke-width="1.1">
<path d="M2081 135.8 L2114.4 167.9"/>
<path d="M1845.8 267.3 L1903.3 288.7"/>
<path d="M1793.1 445.6 L1738.3 475.4"/>
<path d="M1899.4 694.9 L1962.9 714.7"/>
<path d="M1462.4 654.9 L1467.1 718.6"/>
<path d="M1511.8 830.8 L1572.2 868.5"/>
<path d="M1336.3 601 L1327.7 658"/>
<path d="M127 1389 L182.6 1421.1"/>
<path d="M633.2 1214.2 L705.8 1223.1"/>
<path d="M705.8 1223.1 L705.8 1275.9"/>
<path d="M464.2 1214.6 L489.5 1257.4"/>
<path d="M579.1 1327.4 L598.6 1359"/>
<path d="M664.6 1082.8 L674.5 1130.9"/>
<path d="M829.8 1102.9 L864.3 1158.5"/>
<path d="M517.6 1384.9 L521.6 1415.1"/>
<path d="M392.9 1301.6 L419.7 1330.2"/>
<path d="M888.6 1411.6 L922.1 1446.4"/>
<path d="M763.7 1477.1 L779.8 1522"/>
<path d="M588.1 1707.5 L591.6 1784"/>
<path d="M730.6 1745.7 L770.7 1800.5"/>
<path d="M947.1 1153.8 L982.2 1188.3"/>
<path d="M944.5 985.4 L965.2 1026.9"/>
<path d="M888.2 1411.5 L922.5 1447.5"/>
<path d="M763.9 1476.6 L772.7 1500.1"/>
<path d="M224.4 1733.4 L246.4 1784.6"/>
<path d="M418.3 1676 L388.1 1731.5"/>
<path d="M692.5 640.5 L682.7 718.7"/>
<path d="M609.1 712.2 L642.3 751.8"/>
<path d="M517.4 815.8 L591.3 815.3"/>
<path d="M1225.8 694 L1208.8 747.5"/>
<path d="M953.2 1368.8 L997.6 1382.1"/>
</g>
<g font-family="'Liberation Sans', Arial, sans-serif" font-size="43" fill="#000">
<text transform="translate(2116.7,197.5) scale(0.95,1)">1</text>
<text transform="translate(1907,317.5) scale(0.95,1)">3</text>
<text transform="translate(1795.7,448.5) scale(0.95,1)">4</text>
<text transform="translate(1970.5,732.5) scale(0.95,1)">2</text>
<text transform="translate(1455.3,649.5) scale(0.95,1)">5</text>
<text transform="translate(1578.9,893.7) scale(0.95,1)">6</text>
<text transform="translate(1331.5,594.5) scale(0.95,1)">7</text>
<text transform="translate(70.2,1387.6) scale(0.95,1)">22</text>
<text transform="translate(698.6,1219.1) scale(0.95,1)">13</text>
<text transform="translate(428,1207.1) scale(0.95,1)">14</text>
<text transform="translate(547,1321.5) scale(0.95,1)">14</text>
<text transform="translate(639.2,1073.5) scale(0.95,1)">12</text>
<text transform="translate(799.6,1093.5) scale(0.95,1)">11</text>
<text transform="translate(488.2,1375) scale(0.95,1)">15</text>
<text transform="translate(353.4,1296.8) scale(0.95,1)">15</text>
<text transform="translate(921.4,1477.1) scale(0.95,1)">17</text>
<text transform="translate(774.4,1552.5) scale(0.95,1)">18</text>
<text transform="translate(570,1821.9) scale(0.95,1)">20</text>
<text transform="translate(769.3,1836.5) scale(0.95,1)">19</text>
<text transform="translate(242.3,1819.4) scale(0.95,1)">21</text>
<text transform="translate(357.8,1772.9) scale(0.95,1)">19</text>
<text transform="translate(679.1,632.9) scale(0.95,1)">25</text>
<text transform="translate(554.8,704.9) scale(0.95,1)">24</text>
<text transform="translate(463.1,825.5) scale(0.95,1)">23</text>
<text transform="translate(1219.2,686.9) scale(0.95,1)">8</text>
<text transform="translate(924.2,977.9) scale(0.95,1)">9</text>
<text transform="translate(981.2,1219.8) scale(0.95,1)">10</text>
<text transform="translate(1003.3,1405.9) scale(0.95,1)">16</text>
</g>
<text x="883.2" y="1902" font-family="'DejaVu Sans Condensed', 'Liberation Sans', sans-serif" font-size="38.4" fill="#111" opacity="0.999" textLength="441.3" lengthAdjust="spacingAndGlyphs">Rendered by LeadVenture, Inc.</text>
</svg>
</body></html>
